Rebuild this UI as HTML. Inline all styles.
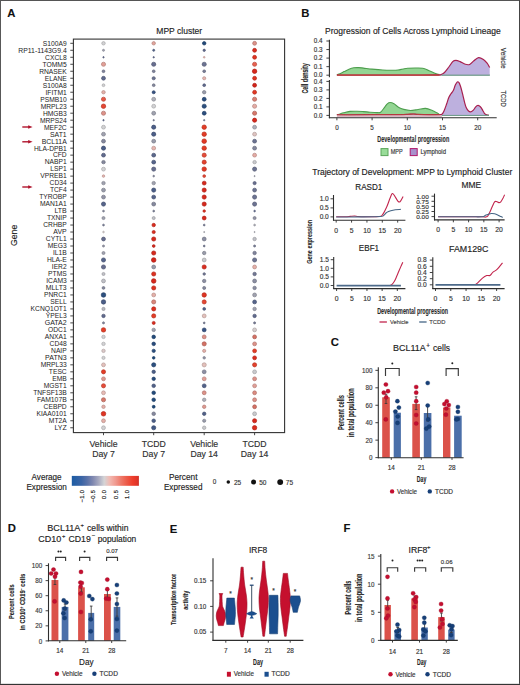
<!DOCTYPE html>
<html><head><meta charset="utf-8"><title>Figure</title>
<style>html,body{margin:0;padding:0;background:#fff;width:520px;height:685px;overflow:hidden;}
svg{display:block;font-family:"Liberation Sans", sans-serif;}</style></head>
<body>
<svg width="520" height="685" viewBox="0 0 520 685" font-family='"Liberation Sans", sans-serif'>
<rect width="520" height="685" fill="#fff"/>
<text x="7.20" y="16.90" font-size="11.30" text-anchor="start" fill="#111" stroke="#111" stroke-width="0.10" font-weight="bold">A</text>
<text x="179.20" y="33.70" font-size="9.00" text-anchor="middle" fill="#222" stroke="#222" stroke-width="0.15" font-weight="normal" textLength="45.80" lengthAdjust="spacingAndGlyphs">MPP cluster</text>
<circle cx="103.50" cy="43.30" r="1.72" fill="#d2d2d4" stroke="#a8a8a9" stroke-width="0.70"/>
<circle cx="103.50" cy="50.29" r="1.03" fill="#a0a2af" stroke="#80818c" stroke-width="0.70"/>
<circle cx="103.50" cy="57.28" r="0.69" fill="#616b8e" stroke="#4d5571" stroke-width="0.70"/>
<circle cx="103.50" cy="64.27" r="2.07" fill="#e19f97" stroke="#b47f78" stroke-width="0.70"/>
<circle cx="103.50" cy="71.26" r="1.38" fill="#80849c" stroke="#66697c" stroke-width="0.70"/>
<circle cx="103.50" cy="78.25" r="1.93" fill="#616b8e" stroke="#4d5571" stroke-width="0.70"/>
<circle cx="103.50" cy="85.24" r="1.38" fill="#d2d2d4" stroke="#a8a8a9" stroke-width="0.70"/>
<circle cx="103.50" cy="92.23" r="1.72" fill="#e4b0a9" stroke="#b68c87" stroke-width="0.70"/>
<circle cx="103.50" cy="99.22" r="2.07" fill="#e75a48" stroke="#b84839" stroke-width="0.70"/>
<circle cx="103.50" cy="106.21" r="2.21" fill="#e54733" stroke="#b73828" stroke-width="0.70"/>
<circle cx="103.50" cy="113.20" r="2.07" fill="#dd9289" stroke="#b0746d" stroke-width="0.70"/>
<circle cx="103.50" cy="120.19" r="0.69" fill="#616b8e" stroke="#4d5571" stroke-width="0.70"/>
<circle cx="103.50" cy="127.18" r="1.93" fill="#d2d2d4" stroke="#a8a8a9" stroke-width="0.70"/>
<circle cx="103.50" cy="134.17" r="1.93" fill="#a0a2af" stroke="#80818c" stroke-width="0.70"/>
<circle cx="103.50" cy="141.16" r="1.93" fill="#85899e" stroke="#6a6d7e" stroke-width="0.70"/>
<circle cx="103.50" cy="148.15" r="2.07" fill="#4b5e88" stroke="#3c4b6c" stroke-width="0.70"/>
<circle cx="103.50" cy="155.14" r="1.93" fill="#616b8e" stroke="#4d5571" stroke-width="0.70"/>
<circle cx="103.50" cy="162.13" r="1.72" fill="#85899e" stroke="#6a6d7e" stroke-width="0.70"/>
<circle cx="103.50" cy="169.12" r="1.93" fill="#d2d2d4" stroke="#a8a8a9" stroke-width="0.70"/>
<circle cx="103.50" cy="176.11" r="1.24" fill="#e6b6b0" stroke="#b8918c" stroke-width="0.70"/>
<circle cx="103.50" cy="183.10" r="1.72" fill="#a0a2af" stroke="#80818c" stroke-width="0.70"/>
<circle cx="103.50" cy="190.09" r="1.93" fill="#999cab" stroke="#7a7c88" stroke-width="0.70"/>
<circle cx="103.50" cy="197.08" r="1.93" fill="#9395a7" stroke="#757785" stroke-width="0.70"/>
<circle cx="103.50" cy="204.07" r="2.07" fill="#56648b" stroke="#44506f" stroke-width="0.70"/>
<circle cx="103.50" cy="211.06" r="0.90" fill="#85899e" stroke="#6a6d7e" stroke-width="0.70"/>
<circle cx="103.50" cy="218.05" r="1.52" fill="#a0a2af" stroke="#80818c" stroke-width="0.70"/>
<circle cx="103.50" cy="225.04" r="0.90" fill="#797e98" stroke="#606479" stroke-width="0.70"/>
<circle cx="103.50" cy="232.03" r="0.83" fill="#d6cece" stroke="#aba4a4" stroke-width="0.70"/>
<circle cx="103.50" cy="239.02" r="1.93" fill="#676e8f" stroke="#525872" stroke-width="0.70"/>
<circle cx="103.50" cy="246.01" r="1.03" fill="#9395a7" stroke="#757785" stroke-width="0.70"/>
<circle cx="103.50" cy="253.00" r="1.52" fill="#a0a2af" stroke="#80818c" stroke-width="0.70"/>
<circle cx="103.50" cy="259.99" r="2.07" fill="#56648b" stroke="#44506f" stroke-width="0.70"/>
<circle cx="103.50" cy="266.98" r="2.07" fill="#676e8f" stroke="#525872" stroke-width="0.70"/>
<circle cx="103.50" cy="273.97" r="1.52" fill="#c0c1c7" stroke="#999a9f" stroke-width="0.70"/>
<circle cx="103.50" cy="280.96" r="1.93" fill="#c0c1c7" stroke="#999a9f" stroke-width="0.70"/>
<circle cx="103.50" cy="287.95" r="1.38" fill="#85899e" stroke="#6a6d7e" stroke-width="0.70"/>
<circle cx="103.50" cy="294.94" r="2.28" fill="#2c4f7f" stroke="#233f65" stroke-width="0.70"/>
<circle cx="103.50" cy="301.93" r="2.21" fill="#4b5e88" stroke="#3c4b6c" stroke-width="0.70"/>
<circle cx="103.50" cy="308.92" r="1.59" fill="#b8b9c0" stroke="#939499" stroke-width="0.70"/>
<circle cx="103.50" cy="315.91" r="1.72" fill="#616b8e" stroke="#4d5571" stroke-width="0.70"/>
<circle cx="103.50" cy="322.90" r="1.03" fill="#85899e" stroke="#6a6d7e" stroke-width="0.70"/>
<circle cx="103.50" cy="329.89" r="2.21" fill="#e43c26" stroke="#b6301e" stroke-width="0.70"/>
<circle cx="103.50" cy="336.88" r="1.72" fill="#d2d2d4" stroke="#a8a8a9" stroke-width="0.70"/>
<circle cx="103.50" cy="343.87" r="1.72" fill="#d2d2d4" stroke="#a8a8a9" stroke-width="0.70"/>
<circle cx="103.50" cy="350.86" r="1.72" fill="#dbc9c8" stroke="#afa0a0" stroke-width="0.70"/>
<circle cx="103.50" cy="357.85" r="1.59" fill="#d2d2d4" stroke="#a8a8a9" stroke-width="0.70"/>
<circle cx="103.50" cy="364.84" r="1.93" fill="#e3c0bb" stroke="#b59995" stroke-width="0.70"/>
<circle cx="103.50" cy="371.83" r="2.07" fill="#e43c26" stroke="#b6301e" stroke-width="0.70"/>
<circle cx="103.50" cy="378.82" r="1.93" fill="#df9990" stroke="#b27a73" stroke-width="0.70"/>
<circle cx="103.50" cy="385.81" r="2.07" fill="#e64c39" stroke="#b83c2d" stroke-width="0.70"/>
<circle cx="103.50" cy="392.80" r="1.93" fill="#e7bbb5" stroke="#b89590" stroke-width="0.70"/>
<circle cx="103.50" cy="399.79" r="2.07" fill="#d6786b" stroke="#ab6055" stroke-width="0.70"/>
<circle cx="103.50" cy="406.78" r="1.72" fill="#e4b0a9" stroke="#b68c87" stroke-width="0.70"/>
<circle cx="103.50" cy="413.77" r="2.28" fill="#e03422" stroke="#b3291b" stroke-width="0.70"/>
<circle cx="103.50" cy="420.76" r="1.93" fill="#e4b0a9" stroke="#b68c87" stroke-width="0.70"/>
<circle cx="103.50" cy="427.75" r="1.93" fill="#d2d2d4" stroke="#a8a8a9" stroke-width="0.70"/>
<circle cx="153.70" cy="43.30" r="1.72" fill="#e2a59d" stroke="#b4847d" stroke-width="0.70"/>
<circle cx="153.70" cy="50.29" r="1.03" fill="#56648b" stroke="#44506f" stroke-width="0.70"/>
<circle cx="153.70" cy="57.28" r="0.69" fill="#616b8e" stroke="#4d5571" stroke-width="0.70"/>
<circle cx="153.70" cy="64.27" r="2.07" fill="#676e8f" stroke="#525872" stroke-width="0.70"/>
<circle cx="153.70" cy="71.26" r="1.38" fill="#80849c" stroke="#66697c" stroke-width="0.70"/>
<circle cx="153.70" cy="78.25" r="1.59" fill="#6c7392" stroke="#565c74" stroke-width="0.70"/>
<circle cx="153.70" cy="85.24" r="1.38" fill="#85899e" stroke="#6a6d7e" stroke-width="0.70"/>
<circle cx="153.70" cy="92.23" r="1.52" fill="#375383" stroke="#2c4268" stroke-width="0.70"/>
<circle cx="153.70" cy="99.22" r="1.93" fill="#afb0ba" stroke="#8c8c94" stroke-width="0.70"/>
<circle cx="153.70" cy="106.21" r="1.93" fill="#d2d2d4" stroke="#a8a8a9" stroke-width="0.70"/>
<circle cx="153.70" cy="113.20" r="1.93" fill="#a0a2af" stroke="#80818c" stroke-width="0.70"/>
<circle cx="153.70" cy="120.19" r="0.69" fill="#797e98" stroke="#606479" stroke-width="0.70"/>
<circle cx="153.70" cy="127.18" r="2.07" fill="#4b5e88" stroke="#3c4b6c" stroke-width="0.70"/>
<circle cx="153.70" cy="134.17" r="2.07" fill="#4b5e88" stroke="#3c4b6c" stroke-width="0.70"/>
<circle cx="153.70" cy="141.16" r="1.93" fill="#999cab" stroke="#7a7c88" stroke-width="0.70"/>
<circle cx="153.70" cy="148.15" r="1.93" fill="#e6b6b0" stroke="#b8918c" stroke-width="0.70"/>
<circle cx="153.70" cy="155.14" r="1.93" fill="#5c688c" stroke="#495370" stroke-width="0.70"/>
<circle cx="153.70" cy="162.13" r="1.93" fill="#56648b" stroke="#44506f" stroke-width="0.70"/>
<circle cx="153.70" cy="169.12" r="2.07" fill="#676e8f" stroke="#525872" stroke-width="0.70"/>
<circle cx="153.70" cy="176.11" r="0.83" fill="#85899e" stroke="#6a6d7e" stroke-width="0.70"/>
<circle cx="153.70" cy="183.10" r="1.72" fill="#a0a2af" stroke="#80818c" stroke-width="0.70"/>
<circle cx="153.70" cy="190.09" r="2.07" fill="#4b5e88" stroke="#3c4b6c" stroke-width="0.70"/>
<circle cx="153.70" cy="197.08" r="1.93" fill="#56648b" stroke="#44506f" stroke-width="0.70"/>
<circle cx="153.70" cy="204.07" r="1.93" fill="#85899e" stroke="#6a6d7e" stroke-width="0.70"/>
<circle cx="153.70" cy="211.06" r="0.90" fill="#797e98" stroke="#606479" stroke-width="0.70"/>
<circle cx="153.70" cy="218.05" r="1.52" fill="#c0c1c7" stroke="#999a9f" stroke-width="0.70"/>
<circle cx="153.70" cy="225.04" r="1.72" fill="#db2c1e" stroke="#af2318" stroke-width="0.70"/>
<circle cx="153.70" cy="232.03" r="1.59" fill="#db2c1e" stroke="#af2318" stroke-width="0.70"/>
<circle cx="153.70" cy="239.02" r="2.07" fill="#d7281c" stroke="#ac2016" stroke-width="0.70"/>
<circle cx="153.70" cy="246.01" r="1.38" fill="#d7281c" stroke="#ac2016" stroke-width="0.70"/>
<circle cx="153.70" cy="253.00" r="2.07" fill="#d7281c" stroke="#ac2016" stroke-width="0.70"/>
<circle cx="153.70" cy="259.99" r="2.28" fill="#d4241a" stroke="#a91c14" stroke-width="0.70"/>
<circle cx="153.70" cy="266.98" r="1.93" fill="#999cab" stroke="#7a7c88" stroke-width="0.70"/>
<circle cx="153.70" cy="273.97" r="2.07" fill="#de3020" stroke="#b12619" stroke-width="0.70"/>
<circle cx="153.70" cy="280.96" r="2.28" fill="#d7281c" stroke="#ac2016" stroke-width="0.70"/>
<circle cx="153.70" cy="287.95" r="2.07" fill="#de3020" stroke="#b12619" stroke-width="0.70"/>
<circle cx="153.70" cy="294.94" r="1.93" fill="#e4b0a9" stroke="#b68c87" stroke-width="0.70"/>
<circle cx="153.70" cy="301.93" r="2.07" fill="#da867a" stroke="#ae6b61" stroke-width="0.70"/>
<circle cx="153.70" cy="308.92" r="2.07" fill="#de3020" stroke="#b12619" stroke-width="0.70"/>
<circle cx="153.70" cy="315.91" r="2.07" fill="#e43c26" stroke="#b6301e" stroke-width="0.70"/>
<circle cx="153.70" cy="322.90" r="1.52" fill="#db2c1e" stroke="#af2318" stroke-width="0.70"/>
<circle cx="153.70" cy="329.89" r="1.72" fill="#a0a2af" stroke="#80818c" stroke-width="0.70"/>
<circle cx="153.70" cy="336.88" r="1.79" fill="#224a7b" stroke="#1b3b62" stroke-width="0.70"/>
<circle cx="153.70" cy="343.87" r="1.79" fill="#284c7d" stroke="#203c64" stroke-width="0.70"/>
<circle cx="153.70" cy="350.86" r="1.66" fill="#2c4f7f" stroke="#233f65" stroke-width="0.70"/>
<circle cx="153.70" cy="357.85" r="1.31" fill="#1e4878" stroke="#183960" stroke-width="0.70"/>
<circle cx="153.70" cy="364.84" r="2.07" fill="#2c4f7f" stroke="#233f65" stroke-width="0.70"/>
<circle cx="153.70" cy="371.83" r="1.72" fill="#4b5e88" stroke="#3c4b6c" stroke-width="0.70"/>
<circle cx="153.70" cy="378.82" r="1.72" fill="#284c7d" stroke="#203c64" stroke-width="0.70"/>
<circle cx="153.70" cy="385.81" r="1.79" fill="#516189" stroke="#404d6d" stroke-width="0.70"/>
<circle cx="153.70" cy="392.80" r="1.79" fill="#224a7b" stroke="#1b3b62" stroke-width="0.70"/>
<circle cx="153.70" cy="399.79" r="1.79" fill="#224a7b" stroke="#1b3b62" stroke-width="0.70"/>
<circle cx="153.70" cy="406.78" r="1.45" fill="#1e4878" stroke="#183960" stroke-width="0.70"/>
<circle cx="153.70" cy="413.77" r="1.79" fill="#85899e" stroke="#6a6d7e" stroke-width="0.70"/>
<circle cx="153.70" cy="420.76" r="1.79" fill="#4b5e88" stroke="#3c4b6c" stroke-width="0.70"/>
<circle cx="153.70" cy="427.75" r="2.07" fill="#415885" stroke="#34466a" stroke-width="0.70"/>
<circle cx="204.20" cy="43.30" r="1.72" fill="#224a7b" stroke="#1b3b62" stroke-width="0.70"/>
<circle cx="204.20" cy="50.29" r="1.17" fill="#616b8e" stroke="#4d5571" stroke-width="0.70"/>
<circle cx="204.20" cy="57.28" r="0.83" fill="#e6b6b0" stroke="#b8918c" stroke-width="0.70"/>
<circle cx="204.20" cy="64.27" r="2.07" fill="#6c7392" stroke="#565c74" stroke-width="0.70"/>
<circle cx="204.20" cy="71.26" r="1.38" fill="#797e98" stroke="#606479" stroke-width="0.70"/>
<circle cx="204.20" cy="78.25" r="1.59" fill="#e6b6b0" stroke="#b8918c" stroke-width="0.70"/>
<circle cx="204.20" cy="85.24" r="1.38" fill="#616b8e" stroke="#4d5571" stroke-width="0.70"/>
<circle cx="204.20" cy="92.23" r="1.72" fill="#999cab" stroke="#7a7c88" stroke-width="0.70"/>
<circle cx="204.20" cy="99.22" r="1.93" fill="#2c4f7f" stroke="#233f65" stroke-width="0.70"/>
<circle cx="204.20" cy="106.21" r="2.07" fill="#2c4f7f" stroke="#233f65" stroke-width="0.70"/>
<circle cx="204.20" cy="113.20" r="1.93" fill="#2c4f7f" stroke="#233f65" stroke-width="0.70"/>
<circle cx="204.20" cy="120.19" r="0.69" fill="#797e98" stroke="#606479" stroke-width="0.70"/>
<circle cx="204.20" cy="127.18" r="2.21" fill="#e43c26" stroke="#b6301e" stroke-width="0.70"/>
<circle cx="204.20" cy="134.17" r="2.21" fill="#e43c26" stroke="#b6301e" stroke-width="0.70"/>
<circle cx="204.20" cy="141.16" r="2.28" fill="#e23824" stroke="#b42c1c" stroke-width="0.70"/>
<circle cx="204.20" cy="148.15" r="2.21" fill="#e43c26" stroke="#b6301e" stroke-width="0.70"/>
<circle cx="204.20" cy="155.14" r="2.07" fill="#e64c39" stroke="#b83c2d" stroke-width="0.70"/>
<circle cx="204.20" cy="162.13" r="2.07" fill="#e4422d" stroke="#b63424" stroke-width="0.70"/>
<circle cx="204.20" cy="169.12" r="2.21" fill="#e23824" stroke="#b42c1c" stroke-width="0.70"/>
<circle cx="204.20" cy="176.11" r="1.38" fill="#e54733" stroke="#b73828" stroke-width="0.70"/>
<circle cx="204.20" cy="183.10" r="1.93" fill="#d7281c" stroke="#ac2016" stroke-width="0.70"/>
<circle cx="204.20" cy="190.09" r="2.07" fill="#d7281c" stroke="#ac2016" stroke-width="0.70"/>
<circle cx="204.20" cy="197.08" r="2.07" fill="#d7281c" stroke="#ac2016" stroke-width="0.70"/>
<circle cx="204.20" cy="204.07" r="2.07" fill="#d7281c" stroke="#ac2016" stroke-width="0.70"/>
<circle cx="204.20" cy="211.06" r="1.24" fill="#de3020" stroke="#b12619" stroke-width="0.70"/>
<circle cx="204.20" cy="218.05" r="1.93" fill="#d7281c" stroke="#ac2016" stroke-width="0.70"/>
<circle cx="204.20" cy="225.04" r="0.90" fill="#797e98" stroke="#606479" stroke-width="0.70"/>
<circle cx="204.20" cy="232.03" r="0.55" fill="#afb0ba" stroke="#8c8c94" stroke-width="0.70"/>
<circle cx="204.20" cy="239.02" r="1.93" fill="#8c8fa3" stroke="#707282" stroke-width="0.70"/>
<circle cx="204.20" cy="246.01" r="0.90" fill="#797e98" stroke="#606479" stroke-width="0.70"/>
<circle cx="204.20" cy="253.00" r="1.72" fill="#999cab" stroke="#7a7c88" stroke-width="0.70"/>
<circle cx="204.20" cy="259.99" r="1.93" fill="#c9cacd" stroke="#a0a1a4" stroke-width="0.70"/>
<circle cx="204.20" cy="266.98" r="2.07" fill="#db2c1e" stroke="#af2318" stroke-width="0.70"/>
<circle cx="204.20" cy="273.97" r="1.24" fill="#737995" stroke="#5c6077" stroke-width="0.70"/>
<circle cx="204.20" cy="280.96" r="1.72" fill="#8c8fa3" stroke="#707282" stroke-width="0.70"/>
<circle cx="204.20" cy="287.95" r="1.52" fill="#85899e" stroke="#6a6d7e" stroke-width="0.70"/>
<circle cx="204.20" cy="294.94" r="2.21" fill="#e03422" stroke="#b3291b" stroke-width="0.70"/>
<circle cx="204.20" cy="301.93" r="2.07" fill="#e54733" stroke="#b73828" stroke-width="0.70"/>
<circle cx="204.20" cy="308.92" r="1.38" fill="#56648b" stroke="#44506f" stroke-width="0.70"/>
<circle cx="204.20" cy="315.91" r="1.93" fill="#e3c0bb" stroke="#b59995" stroke-width="0.70"/>
<circle cx="204.20" cy="322.90" r="0.90" fill="#797e98" stroke="#606479" stroke-width="0.70"/>
<circle cx="204.20" cy="329.89" r="1.93" fill="#375383" stroke="#2c4268" stroke-width="0.70"/>
<circle cx="204.20" cy="336.88" r="1.93" fill="#dd9289" stroke="#b0746d" stroke-width="0.70"/>
<circle cx="204.20" cy="343.87" r="2.07" fill="#d47164" stroke="#a95a50" stroke-width="0.70"/>
<circle cx="204.20" cy="350.86" r="1.59" fill="#e4b0a9" stroke="#b68c87" stroke-width="0.70"/>
<circle cx="204.20" cy="357.85" r="1.24" fill="#9395a7" stroke="#757785" stroke-width="0.70"/>
<circle cx="204.20" cy="364.84" r="2.07" fill="#e3c0bb" stroke="#b59995" stroke-width="0.70"/>
<circle cx="204.20" cy="371.83" r="1.93" fill="#8c8fa3" stroke="#707282" stroke-width="0.70"/>
<circle cx="204.20" cy="378.82" r="1.93" fill="#e19f97" stroke="#b47f78" stroke-width="0.70"/>
<circle cx="204.20" cy="385.81" r="1.93" fill="#516189" stroke="#404d6d" stroke-width="0.70"/>
<circle cx="204.20" cy="392.80" r="1.93" fill="#dd9289" stroke="#b0746d" stroke-width="0.70"/>
<circle cx="204.20" cy="399.79" r="1.72" fill="#afb0ba" stroke="#8c8c94" stroke-width="0.70"/>
<circle cx="204.20" cy="406.78" r="1.72" fill="#df9990" stroke="#b27a73" stroke-width="0.70"/>
<circle cx="204.20" cy="413.77" r="1.72" fill="#516189" stroke="#404d6d" stroke-width="0.70"/>
<circle cx="204.20" cy="420.76" r="1.59" fill="#999cab" stroke="#7a7c88" stroke-width="0.70"/>
<circle cx="204.20" cy="427.75" r="1.72" fill="#c9cacd" stroke="#a0a1a4" stroke-width="0.70"/>
<circle cx="254.60" cy="43.30" r="1.93" fill="#dd9289" stroke="#b0746d" stroke-width="0.70"/>
<circle cx="254.60" cy="50.29" r="1.93" fill="#db2c1e" stroke="#af2318" stroke-width="0.70"/>
<circle cx="254.60" cy="57.28" r="1.93" fill="#e03422" stroke="#b3291b" stroke-width="0.70"/>
<circle cx="254.60" cy="64.27" r="2.07" fill="#e86150" stroke="#b94d40" stroke-width="0.70"/>
<circle cx="254.60" cy="71.26" r="2.21" fill="#d7281c" stroke="#ac2016" stroke-width="0.70"/>
<circle cx="254.60" cy="78.25" r="1.93" fill="#e03422" stroke="#b3291b" stroke-width="0.70"/>
<circle cx="254.60" cy="85.24" r="1.93" fill="#d4241a" stroke="#a91c14" stroke-width="0.70"/>
<circle cx="254.60" cy="92.23" r="1.93" fill="#e23824" stroke="#b42c1c" stroke-width="0.70"/>
<circle cx="254.60" cy="99.22" r="2.07" fill="#d87f73" stroke="#ac655c" stroke-width="0.70"/>
<circle cx="254.60" cy="106.21" r="2.07" fill="#e4aba4" stroke="#b68883" stroke-width="0.70"/>
<circle cx="254.60" cy="113.20" r="2.07" fill="#d6786b" stroke="#ab6055" stroke-width="0.70"/>
<circle cx="254.60" cy="120.19" r="2.07" fill="#d7281c" stroke="#ac2016" stroke-width="0.70"/>
<circle cx="254.60" cy="127.18" r="1.93" fill="#afb0ba" stroke="#8c8c94" stroke-width="0.70"/>
<circle cx="254.60" cy="134.17" r="1.93" fill="#dfc4c1" stroke="#b29c9a" stroke-width="0.70"/>
<circle cx="254.60" cy="141.16" r="1.93" fill="#6c7392" stroke="#565c74" stroke-width="0.70"/>
<circle cx="254.60" cy="148.15" r="1.93" fill="#85899e" stroke="#6a6d7e" stroke-width="0.70"/>
<circle cx="254.60" cy="155.14" r="1.93" fill="#e4aba4" stroke="#b68883" stroke-width="0.70"/>
<circle cx="254.60" cy="162.13" r="1.72" fill="#c9cacd" stroke="#a0a1a4" stroke-width="0.70"/>
<circle cx="254.60" cy="169.12" r="2.07" fill="#6c7392" stroke="#565c74" stroke-width="0.70"/>
<circle cx="254.60" cy="176.11" r="0.55" fill="#a0a2af" stroke="#80818c" stroke-width="0.70"/>
<circle cx="254.60" cy="183.10" r="1.59" fill="#676e8f" stroke="#525872" stroke-width="0.70"/>
<circle cx="254.60" cy="190.09" r="1.93" fill="#6c7392" stroke="#565c74" stroke-width="0.70"/>
<circle cx="254.60" cy="197.08" r="2.07" fill="#6c7392" stroke="#565c74" stroke-width="0.70"/>
<circle cx="254.60" cy="204.07" r="2.07" fill="#6c7392" stroke="#565c74" stroke-width="0.70"/>
<circle cx="254.60" cy="211.06" r="0.83" fill="#616b8e" stroke="#4d5571" stroke-width="0.70"/>
<circle cx="254.60" cy="218.05" r="1.52" fill="#9395a7" stroke="#757785" stroke-width="0.70"/>
<circle cx="254.60" cy="225.04" r="0.90" fill="#afb0ba" stroke="#8c8c94" stroke-width="0.70"/>
<circle cx="254.60" cy="232.03" r="0.55" fill="#afb0ba" stroke="#8c8c94" stroke-width="0.70"/>
<circle cx="254.60" cy="239.02" r="1.72" fill="#c0c1c7" stroke="#999a9f" stroke-width="0.70"/>
<circle cx="254.60" cy="246.01" r="1.03" fill="#797e98" stroke="#606479" stroke-width="0.70"/>
<circle cx="254.60" cy="253.00" r="1.72" fill="#80849c" stroke="#66697c" stroke-width="0.70"/>
<circle cx="254.60" cy="259.99" r="2.07" fill="#6c7392" stroke="#565c74" stroke-width="0.70"/>
<circle cx="254.60" cy="266.98" r="1.93" fill="#e4b0a9" stroke="#b68c87" stroke-width="0.70"/>
<circle cx="254.60" cy="273.97" r="1.72" fill="#737995" stroke="#5c6077" stroke-width="0.70"/>
<circle cx="254.60" cy="280.96" r="1.93" fill="#8c8fa3" stroke="#707282" stroke-width="0.70"/>
<circle cx="254.60" cy="287.95" r="1.72" fill="#8c8fa3" stroke="#707282" stroke-width="0.70"/>
<circle cx="254.60" cy="294.94" r="1.93" fill="#a0a2af" stroke="#80818c" stroke-width="0.70"/>
<circle cx="254.60" cy="301.93" r="1.93" fill="#56648b" stroke="#44506f" stroke-width="0.70"/>
<circle cx="254.60" cy="308.92" r="1.72" fill="#a0a2af" stroke="#80818c" stroke-width="0.70"/>
<circle cx="254.60" cy="315.91" r="1.72" fill="#616b8e" stroke="#4d5571" stroke-width="0.70"/>
<circle cx="254.60" cy="322.90" r="1.03" fill="#797e98" stroke="#606479" stroke-width="0.70"/>
<circle cx="254.60" cy="329.89" r="1.93" fill="#d6cece" stroke="#aba4a4" stroke-width="0.70"/>
<circle cx="254.60" cy="336.88" r="1.93" fill="#d47164" stroke="#a95a50" stroke-width="0.70"/>
<circle cx="254.60" cy="343.87" r="1.93" fill="#dd9289" stroke="#b0746d" stroke-width="0.70"/>
<circle cx="254.60" cy="350.86" r="1.93" fill="#e43c26" stroke="#b6301e" stroke-width="0.70"/>
<circle cx="254.60" cy="357.85" r="1.93" fill="#db2c1e" stroke="#af2318" stroke-width="0.70"/>
<circle cx="254.60" cy="364.84" r="2.07" fill="#e4422d" stroke="#b63424" stroke-width="0.70"/>
<circle cx="254.60" cy="371.83" r="1.93" fill="#c9cacd" stroke="#a0a1a4" stroke-width="0.70"/>
<circle cx="254.60" cy="378.82" r="1.93" fill="#dd9289" stroke="#b0746d" stroke-width="0.70"/>
<circle cx="254.60" cy="385.81" r="1.93" fill="#e19f97" stroke="#b47f78" stroke-width="0.70"/>
<circle cx="254.60" cy="392.80" r="1.93" fill="#dc8c81" stroke="#b07067" stroke-width="0.70"/>
<circle cx="254.60" cy="399.79" r="1.93" fill="#dd9289" stroke="#b0746d" stroke-width="0.70"/>
<circle cx="254.60" cy="406.78" r="1.93" fill="#d47164" stroke="#a95a50" stroke-width="0.70"/>
<circle cx="254.60" cy="413.77" r="1.93" fill="#c9cacd" stroke="#a0a1a4" stroke-width="0.70"/>
<circle cx="254.60" cy="420.76" r="2.07" fill="#d7281c" stroke="#ac2016" stroke-width="0.70"/>
<circle cx="254.60" cy="427.75" r="2.21" fill="#db2c1e" stroke="#af2318" stroke-width="0.70"/>
<rect x="73.4" y="39.1" width="211.2" height="393.5" fill="none" stroke="#333" stroke-width="1.1"/>
<line x1="70.30" y1="43.30" x2="73.40" y2="43.30" stroke="#333" stroke-width="0.90"/>
<text x="66.70" y="45.65" font-size="6.80" text-anchor="end" fill="#1c1c1c" stroke="#1c1c1c" stroke-width="0.00" font-weight="normal" textLength="23.84" lengthAdjust="spacingAndGlyphs">S100A9</text>
<line x1="70.30" y1="50.29" x2="73.40" y2="50.29" stroke="#333" stroke-width="0.90"/>
<text x="66.70" y="52.64" font-size="6.80" text-anchor="end" fill="#1c1c1c" stroke="#1c1c1c" stroke-width="0.00" font-weight="normal" textLength="48.41" lengthAdjust="spacingAndGlyphs">RP11-1143G9.4</text>
<line x1="70.30" y1="57.28" x2="73.40" y2="57.28" stroke="#333" stroke-width="0.90"/>
<text x="66.70" y="59.63" font-size="6.80" text-anchor="end" fill="#1c1c1c" stroke="#1c1c1c" stroke-width="0.00" font-weight="normal" textLength="21.59" lengthAdjust="spacingAndGlyphs">CXCL8</text>
<line x1="70.30" y1="64.27" x2="73.40" y2="64.27" stroke="#333" stroke-width="0.90"/>
<text x="66.70" y="66.62" font-size="6.80" text-anchor="end" fill="#1c1c1c" stroke="#1c1c1c" stroke-width="0.00" font-weight="normal" textLength="24.19" lengthAdjust="spacingAndGlyphs">TOMM5</text>
<line x1="70.30" y1="71.26" x2="73.40" y2="71.26" stroke="#333" stroke-width="0.90"/>
<text x="66.70" y="73.61" font-size="6.80" text-anchor="end" fill="#1c1c1c" stroke="#1c1c1c" stroke-width="0.00" font-weight="normal" textLength="27.54" lengthAdjust="spacingAndGlyphs">RNASEK</text>
<line x1="70.30" y1="78.25" x2="73.40" y2="78.25" stroke="#333" stroke-width="0.90"/>
<text x="66.70" y="80.60" font-size="6.80" text-anchor="end" fill="#1c1c1c" stroke="#1c1c1c" stroke-width="0.00" font-weight="normal" textLength="21.96" lengthAdjust="spacingAndGlyphs">ELANE</text>
<line x1="70.30" y1="85.24" x2="73.40" y2="85.24" stroke="#333" stroke-width="0.90"/>
<text x="66.70" y="87.59" font-size="6.80" text-anchor="end" fill="#1c1c1c" stroke="#1c1c1c" stroke-width="0.00" font-weight="normal" textLength="23.84" lengthAdjust="spacingAndGlyphs">S100A8</text>
<line x1="70.30" y1="92.23" x2="73.40" y2="92.23" stroke="#333" stroke-width="0.90"/>
<text x="66.70" y="94.58" font-size="6.80" text-anchor="end" fill="#1c1c1c" stroke="#1c1c1c" stroke-width="0.00" font-weight="normal" textLength="21.21" lengthAdjust="spacingAndGlyphs">IFITM1</text>
<line x1="70.30" y1="99.22" x2="73.40" y2="99.22" stroke="#333" stroke-width="0.90"/>
<text x="66.70" y="101.57" font-size="6.80" text-anchor="end" fill="#1c1c1c" stroke="#1c1c1c" stroke-width="0.00" font-weight="normal" textLength="26.43" lengthAdjust="spacingAndGlyphs">PSMB10</text>
<line x1="70.30" y1="106.21" x2="73.40" y2="106.21" stroke="#333" stroke-width="0.90"/>
<text x="66.70" y="108.56" font-size="6.80" text-anchor="end" fill="#1c1c1c" stroke="#1c1c1c" stroke-width="0.00" font-weight="normal" textLength="26.06" lengthAdjust="spacingAndGlyphs">MRPL23</text>
<line x1="70.30" y1="113.20" x2="73.40" y2="113.20" stroke="#333" stroke-width="0.90"/>
<text x="66.70" y="115.55" font-size="6.80" text-anchor="end" fill="#1c1c1c" stroke="#1c1c1c" stroke-width="0.00" font-weight="normal" textLength="23.82" lengthAdjust="spacingAndGlyphs">HMGB3</text>
<line x1="70.30" y1="120.19" x2="73.40" y2="120.19" stroke="#333" stroke-width="0.90"/>
<text x="66.70" y="122.54" font-size="6.80" text-anchor="end" fill="#1c1c1c" stroke="#1c1c1c" stroke-width="0.00" font-weight="normal" textLength="26.80" lengthAdjust="spacingAndGlyphs">MRPS24</text>
<line x1="70.30" y1="127.18" x2="73.40" y2="127.18" stroke="#333" stroke-width="0.90"/>
<text x="66.70" y="129.53" font-size="6.80" text-anchor="end" fill="#1c1c1c" stroke="#1c1c1c" stroke-width="0.00" font-weight="normal" textLength="22.70" lengthAdjust="spacingAndGlyphs">MEF2C</text>
<line x1="70.30" y1="134.17" x2="73.40" y2="134.17" stroke="#333" stroke-width="0.90"/>
<text x="66.70" y="136.52" font-size="6.80" text-anchor="end" fill="#1c1c1c" stroke="#1c1c1c" stroke-width="0.00" font-weight="normal" textLength="16.75" lengthAdjust="spacingAndGlyphs">SAT1</text>
<line x1="70.30" y1="141.16" x2="73.40" y2="141.16" stroke="#333" stroke-width="0.90"/>
<text x="66.70" y="143.51" font-size="6.80" text-anchor="end" fill="#1c1c1c" stroke="#1c1c1c" stroke-width="0.00" font-weight="normal" textLength="24.95" lengthAdjust="spacingAndGlyphs">BCL11A</text>
<line x1="70.30" y1="148.15" x2="73.40" y2="148.15" stroke="#333" stroke-width="0.90"/>
<text x="66.70" y="150.50" font-size="6.80" text-anchor="end" fill="#1c1c1c" stroke="#1c1c1c" stroke-width="0.00" font-weight="normal" textLength="32.76" lengthAdjust="spacingAndGlyphs">HLA-DPB1</text>
<line x1="70.30" y1="155.14" x2="73.40" y2="155.14" stroke="#333" stroke-width="0.90"/>
<text x="66.70" y="157.49" font-size="6.80" text-anchor="end" fill="#1c1c1c" stroke="#1c1c1c" stroke-width="0.00" font-weight="normal" textLength="13.77" lengthAdjust="spacingAndGlyphs">CFD</text>
<line x1="70.30" y1="162.13" x2="73.40" y2="162.13" stroke="#333" stroke-width="0.90"/>
<text x="66.70" y="164.48" font-size="6.80" text-anchor="end" fill="#1c1c1c" stroke="#1c1c1c" stroke-width="0.00" font-weight="normal" textLength="21.96" lengthAdjust="spacingAndGlyphs">NABP1</text>
<line x1="70.30" y1="169.12" x2="73.40" y2="169.12" stroke="#333" stroke-width="0.90"/>
<text x="66.70" y="171.47" font-size="6.80" text-anchor="end" fill="#1c1c1c" stroke="#1c1c1c" stroke-width="0.00" font-weight="normal" textLength="16.39" lengthAdjust="spacingAndGlyphs">LSP1</text>
<line x1="70.30" y1="176.11" x2="73.40" y2="176.11" stroke="#333" stroke-width="0.90"/>
<text x="66.70" y="178.46" font-size="6.80" text-anchor="end" fill="#1c1c1c" stroke="#1c1c1c" stroke-width="0.00" font-weight="normal" textLength="26.43" lengthAdjust="spacingAndGlyphs">VPREB1</text>
<line x1="70.30" y1="183.10" x2="73.40" y2="183.10" stroke="#333" stroke-width="0.90"/>
<text x="66.70" y="185.45" font-size="6.80" text-anchor="end" fill="#1c1c1c" stroke="#1c1c1c" stroke-width="0.00" font-weight="normal" textLength="17.12" lengthAdjust="spacingAndGlyphs">CD34</text>
<line x1="70.30" y1="190.09" x2="73.40" y2="190.09" stroke="#333" stroke-width="0.90"/>
<text x="66.70" y="192.44" font-size="6.80" text-anchor="end" fill="#1c1c1c" stroke="#1c1c1c" stroke-width="0.00" font-weight="normal" textLength="16.75" lengthAdjust="spacingAndGlyphs">TCF4</text>
<line x1="70.30" y1="197.08" x2="73.40" y2="197.08" stroke="#333" stroke-width="0.90"/>
<text x="66.70" y="199.43" font-size="6.80" text-anchor="end" fill="#1c1c1c" stroke="#1c1c1c" stroke-width="0.00" font-weight="normal" textLength="27.54" lengthAdjust="spacingAndGlyphs">TYROBP</text>
<line x1="70.30" y1="204.07" x2="73.40" y2="204.07" stroke="#333" stroke-width="0.90"/>
<text x="66.70" y="206.42" font-size="6.80" text-anchor="end" fill="#1c1c1c" stroke="#1c1c1c" stroke-width="0.00" font-weight="normal" textLength="26.80" lengthAdjust="spacingAndGlyphs">MAN1A1</text>
<line x1="70.30" y1="211.06" x2="73.40" y2="211.06" stroke="#333" stroke-width="0.90"/>
<text x="66.70" y="213.41" font-size="6.80" text-anchor="end" fill="#1c1c1c" stroke="#1c1c1c" stroke-width="0.00" font-weight="normal" textLength="12.28" lengthAdjust="spacingAndGlyphs">LTB</text>
<line x1="70.30" y1="218.05" x2="73.40" y2="218.05" stroke="#333" stroke-width="0.90"/>
<text x="66.70" y="220.40" font-size="6.80" text-anchor="end" fill="#1c1c1c" stroke="#1c1c1c" stroke-width="0.00" font-weight="normal" textLength="19.72" lengthAdjust="spacingAndGlyphs">TXNIP</text>
<line x1="70.30" y1="225.04" x2="73.40" y2="225.04" stroke="#333" stroke-width="0.90"/>
<text x="66.70" y="227.39" font-size="6.80" text-anchor="end" fill="#1c1c1c" stroke="#1c1c1c" stroke-width="0.00" font-weight="normal" textLength="23.45" lengthAdjust="spacingAndGlyphs">CRHBP</text>
<line x1="70.30" y1="232.03" x2="73.40" y2="232.03" stroke="#333" stroke-width="0.90"/>
<text x="66.70" y="234.38" font-size="6.80" text-anchor="end" fill="#1c1c1c" stroke="#1c1c1c" stroke-width="0.00" font-weight="normal" textLength="13.40" lengthAdjust="spacingAndGlyphs">AVP</text>
<line x1="70.30" y1="239.02" x2="73.40" y2="239.02" stroke="#333" stroke-width="0.90"/>
<text x="66.70" y="241.37" font-size="6.80" text-anchor="end" fill="#1c1c1c" stroke="#1c1c1c" stroke-width="0.00" font-weight="normal" textLength="20.85" lengthAdjust="spacingAndGlyphs">CYTL1</text>
<line x1="70.30" y1="246.01" x2="73.40" y2="246.01" stroke="#333" stroke-width="0.90"/>
<text x="66.70" y="248.36" font-size="6.80" text-anchor="end" fill="#1c1c1c" stroke="#1c1c1c" stroke-width="0.00" font-weight="normal" textLength="18.98" lengthAdjust="spacingAndGlyphs">MEG3</text>
<line x1="70.30" y1="253.00" x2="73.40" y2="253.00" stroke="#333" stroke-width="0.90"/>
<text x="66.70" y="255.35" font-size="6.80" text-anchor="end" fill="#1c1c1c" stroke="#1c1c1c" stroke-width="0.00" font-weight="normal" textLength="13.78" lengthAdjust="spacingAndGlyphs">IL1B</text>
<line x1="70.30" y1="259.99" x2="73.40" y2="259.99" stroke="#333" stroke-width="0.90"/>
<text x="66.70" y="262.34" font-size="6.80" text-anchor="end" fill="#1c1c1c" stroke="#1c1c1c" stroke-width="0.00" font-weight="normal" textLength="19.73" lengthAdjust="spacingAndGlyphs">HLA-E</text>
<line x1="70.30" y1="266.98" x2="73.40" y2="266.98" stroke="#333" stroke-width="0.90"/>
<text x="66.70" y="269.33" font-size="6.80" text-anchor="end" fill="#1c1c1c" stroke="#1c1c1c" stroke-width="0.00" font-weight="normal" textLength="14.89" lengthAdjust="spacingAndGlyphs">IER2</text>
<line x1="70.30" y1="273.97" x2="73.40" y2="273.97" stroke="#333" stroke-width="0.90"/>
<text x="66.70" y="276.32" font-size="6.80" text-anchor="end" fill="#1c1c1c" stroke="#1c1c1c" stroke-width="0.00" font-weight="normal" textLength="18.61" lengthAdjust="spacingAndGlyphs">PTMS</text>
<line x1="70.30" y1="280.96" x2="73.40" y2="280.96" stroke="#333" stroke-width="0.90"/>
<text x="66.70" y="283.31" font-size="6.80" text-anchor="end" fill="#1c1c1c" stroke="#1c1c1c" stroke-width="0.00" font-weight="normal" textLength="20.47" lengthAdjust="spacingAndGlyphs">ICAM3</text>
<line x1="70.30" y1="287.95" x2="73.40" y2="287.95" stroke="#333" stroke-width="0.90"/>
<text x="66.70" y="290.30" font-size="6.80" text-anchor="end" fill="#1c1c1c" stroke="#1c1c1c" stroke-width="0.00" font-weight="normal" textLength="20.85" lengthAdjust="spacingAndGlyphs">MLLT3</text>
<line x1="70.30" y1="294.94" x2="73.40" y2="294.94" stroke="#333" stroke-width="0.90"/>
<text x="66.70" y="297.29" font-size="6.80" text-anchor="end" fill="#1c1c1c" stroke="#1c1c1c" stroke-width="0.00" font-weight="normal" textLength="22.70" lengthAdjust="spacingAndGlyphs">PNRC1</text>
<line x1="70.30" y1="301.93" x2="73.40" y2="301.93" stroke="#333" stroke-width="0.90"/>
<text x="66.70" y="304.28" font-size="6.80" text-anchor="end" fill="#1c1c1c" stroke="#1c1c1c" stroke-width="0.00" font-weight="normal" textLength="16.39" lengthAdjust="spacingAndGlyphs">SELL</text>
<line x1="70.30" y1="308.92" x2="73.40" y2="308.92" stroke="#333" stroke-width="0.90"/>
<text x="66.70" y="311.27" font-size="6.80" text-anchor="end" fill="#1c1c1c" stroke="#1c1c1c" stroke-width="0.00" font-weight="normal" textLength="36.10" lengthAdjust="spacingAndGlyphs">KCNQ1OT1</text>
<line x1="70.30" y1="315.91" x2="73.40" y2="315.91" stroke="#333" stroke-width="0.90"/>
<text x="66.70" y="318.26" font-size="6.80" text-anchor="end" fill="#1c1c1c" stroke="#1c1c1c" stroke-width="0.00" font-weight="normal" textLength="20.85" lengthAdjust="spacingAndGlyphs">YPEL3</text>
<line x1="70.30" y1="322.90" x2="73.40" y2="322.90" stroke="#333" stroke-width="0.90"/>
<text x="66.70" y="325.25" font-size="6.80" text-anchor="end" fill="#1c1c1c" stroke="#1c1c1c" stroke-width="0.00" font-weight="normal" textLength="21.96" lengthAdjust="spacingAndGlyphs">GATA2</text>
<line x1="70.30" y1="329.89" x2="73.40" y2="329.89" stroke="#333" stroke-width="0.90"/>
<text x="66.70" y="332.24" font-size="6.80" text-anchor="end" fill="#1c1c1c" stroke="#1c1c1c" stroke-width="0.00" font-weight="normal" textLength="18.61" lengthAdjust="spacingAndGlyphs">ODC1</text>
<line x1="70.30" y1="336.88" x2="73.40" y2="336.88" stroke="#333" stroke-width="0.90"/>
<text x="66.70" y="339.23" font-size="6.80" text-anchor="end" fill="#1c1c1c" stroke="#1c1c1c" stroke-width="0.00" font-weight="normal" textLength="21.96" lengthAdjust="spacingAndGlyphs">ANXA1</text>
<line x1="70.30" y1="343.87" x2="73.40" y2="343.87" stroke="#333" stroke-width="0.90"/>
<text x="66.70" y="346.22" font-size="6.80" text-anchor="end" fill="#1c1c1c" stroke="#1c1c1c" stroke-width="0.00" font-weight="normal" textLength="17.12" lengthAdjust="spacingAndGlyphs">CD48</text>
<line x1="70.30" y1="350.86" x2="73.40" y2="350.86" stroke="#333" stroke-width="0.90"/>
<text x="66.70" y="353.21" font-size="6.80" text-anchor="end" fill="#1c1c1c" stroke="#1c1c1c" stroke-width="0.00" font-weight="normal" textLength="15.63" lengthAdjust="spacingAndGlyphs">NAIP</text>
<line x1="70.30" y1="357.85" x2="73.40" y2="357.85" stroke="#333" stroke-width="0.90"/>
<text x="66.70" y="360.20" font-size="6.80" text-anchor="end" fill="#1c1c1c" stroke="#1c1c1c" stroke-width="0.00" font-weight="normal" textLength="21.59" lengthAdjust="spacingAndGlyphs">PATN3</text>
<line x1="70.30" y1="364.84" x2="73.40" y2="364.84" stroke="#333" stroke-width="0.90"/>
<text x="66.70" y="367.19" font-size="6.80" text-anchor="end" fill="#1c1c1c" stroke="#1c1c1c" stroke-width="0.00" font-weight="normal" textLength="26.06" lengthAdjust="spacingAndGlyphs">MRPL33</text>
<line x1="70.30" y1="371.83" x2="73.40" y2="371.83" stroke="#333" stroke-width="0.90"/>
<text x="66.70" y="374.18" font-size="6.80" text-anchor="end" fill="#1c1c1c" stroke="#1c1c1c" stroke-width="0.00" font-weight="normal" textLength="17.86" lengthAdjust="spacingAndGlyphs">TESC</text>
<line x1="70.30" y1="378.82" x2="73.40" y2="378.82" stroke="#333" stroke-width="0.90"/>
<text x="66.70" y="381.17" font-size="6.80" text-anchor="end" fill="#1c1c1c" stroke="#1c1c1c" stroke-width="0.00" font-weight="normal" textLength="14.51" lengthAdjust="spacingAndGlyphs">EMB</text>
<line x1="70.30" y1="385.81" x2="73.40" y2="385.81" stroke="#333" stroke-width="0.90"/>
<text x="66.70" y="388.16" font-size="6.80" text-anchor="end" fill="#1c1c1c" stroke="#1c1c1c" stroke-width="0.00" font-weight="normal" textLength="23.07" lengthAdjust="spacingAndGlyphs">MGST1</text>
<line x1="70.30" y1="392.80" x2="73.40" y2="392.80" stroke="#333" stroke-width="0.90"/>
<text x="66.70" y="395.15" font-size="6.80" text-anchor="end" fill="#1c1c1c" stroke="#1c1c1c" stroke-width="0.00" font-weight="normal" textLength="33.50" lengthAdjust="spacingAndGlyphs">TNFSF13B</text>
<line x1="70.30" y1="399.79" x2="73.40" y2="399.79" stroke="#333" stroke-width="0.90"/>
<text x="66.70" y="402.14" font-size="6.80" text-anchor="end" fill="#1c1c1c" stroke="#1c1c1c" stroke-width="0.00" font-weight="normal" textLength="29.78" lengthAdjust="spacingAndGlyphs">FAM107B</text>
<line x1="70.30" y1="406.78" x2="73.40" y2="406.78" stroke="#333" stroke-width="0.90"/>
<text x="66.70" y="409.13" font-size="6.80" text-anchor="end" fill="#1c1c1c" stroke="#1c1c1c" stroke-width="0.00" font-weight="normal" textLength="23.08" lengthAdjust="spacingAndGlyphs">CEBPD</text>
<line x1="70.30" y1="413.77" x2="73.40" y2="413.77" stroke="#333" stroke-width="0.90"/>
<text x="66.70" y="416.12" font-size="6.80" text-anchor="end" fill="#1c1c1c" stroke="#1c1c1c" stroke-width="0.00" font-weight="normal" textLength="30.16" lengthAdjust="spacingAndGlyphs">KIAA0101</text>
<line x1="70.30" y1="420.76" x2="73.40" y2="420.76" stroke="#333" stroke-width="0.90"/>
<text x="66.70" y="423.11" font-size="6.80" text-anchor="end" fill="#1c1c1c" stroke="#1c1c1c" stroke-width="0.00" font-weight="normal" textLength="17.86" lengthAdjust="spacingAndGlyphs">MT2A</text>
<line x1="70.30" y1="427.75" x2="73.40" y2="427.75" stroke="#333" stroke-width="0.90"/>
<text x="66.70" y="430.10" font-size="6.80" text-anchor="end" fill="#1c1c1c" stroke="#1c1c1c" stroke-width="0.00" font-weight="normal" textLength="12.28" lengthAdjust="spacingAndGlyphs">LYZ</text>
<line x1="103.50" y1="432.60" x2="103.50" y2="435.20" stroke="#333" stroke-width="0.90"/>
<text x="103.50" y="446.60" font-size="8.70" text-anchor="middle" fill="#2f2f2f" stroke="#2f2f2f" stroke-width="0.15" font-weight="normal">Vehicle</text>
<text x="103.50" y="457.00" font-size="8.70" text-anchor="middle" fill="#2f2f2f" stroke="#2f2f2f" stroke-width="0.15" font-weight="normal">Day 7</text>
<line x1="153.70" y1="432.60" x2="153.70" y2="435.20" stroke="#333" stroke-width="0.90"/>
<text x="153.70" y="446.60" font-size="8.70" text-anchor="middle" fill="#2f2f2f" stroke="#2f2f2f" stroke-width="0.15" font-weight="normal">TCDD</text>
<text x="153.70" y="457.00" font-size="8.70" text-anchor="middle" fill="#2f2f2f" stroke="#2f2f2f" stroke-width="0.15" font-weight="normal">Day 7</text>
<line x1="204.20" y1="432.60" x2="204.20" y2="435.20" stroke="#333" stroke-width="0.90"/>
<text x="204.20" y="446.60" font-size="8.70" text-anchor="middle" fill="#2f2f2f" stroke="#2f2f2f" stroke-width="0.15" font-weight="normal">Vehicle</text>
<text x="204.20" y="457.00" font-size="8.70" text-anchor="middle" fill="#2f2f2f" stroke="#2f2f2f" stroke-width="0.15" font-weight="normal">Day 14</text>
<line x1="254.60" y1="432.60" x2="254.60" y2="435.20" stroke="#333" stroke-width="0.90"/>
<text x="254.60" y="446.60" font-size="8.70" text-anchor="middle" fill="#2f2f2f" stroke="#2f2f2f" stroke-width="0.15" font-weight="normal">TCDD</text>
<text x="254.60" y="457.00" font-size="8.70" text-anchor="middle" fill="#2f2f2f" stroke="#2f2f2f" stroke-width="0.15" font-weight="normal">Day 14</text>
<text transform="translate(13.90 235.40) rotate(-90)" x="0" y="2.99" font-size="8.70" text-anchor="middle" fill="#222" stroke="#222" stroke-width="0.15" font-weight="normal">Gene</text>
<line x1="22.30" y1="127.00" x2="29.00" y2="127.00" stroke="#b0142c" stroke-width="1.40"/>
<path d="M28.2,125.30 L32.6,127.00 L28.2,128.70 Z" fill="#b0142c"/>
<line x1="22.30" y1="141.80" x2="29.00" y2="141.80" stroke="#b0142c" stroke-width="1.40"/>
<path d="M28.2,140.10 L32.6,141.80 L28.2,143.50 Z" fill="#b0142c"/>
<line x1="22.30" y1="187.00" x2="29.00" y2="187.00" stroke="#b0142c" stroke-width="1.40"/>
<path d="M28.2,185.30 L32.6,187.00 L28.2,188.70 Z" fill="#b0142c"/>
<text x="46.60" y="480.40" font-size="8.70" text-anchor="middle" fill="#222" stroke="#222" stroke-width="0.15" font-weight="normal" textLength="30.00" lengthAdjust="spacingAndGlyphs">Average</text>
<text x="46.60" y="490.40" font-size="8.70" text-anchor="middle" fill="#222" stroke="#222" stroke-width="0.15" font-weight="normal" textLength="40.40" lengthAdjust="spacingAndGlyphs">Expression</text>
<defs><linearGradient id="cb" x1="0" x2="1" y1="0" y2="0"><stop offset="0.000" stop-color="#1c5ca4"/><stop offset="0.145" stop-color="#3a64a5"/><stop offset="0.230" stop-color="#5a72a8"/><stop offset="0.314" stop-color="#8088b0"/><stop offset="0.399" stop-color="#a8aac0"/><stop offset="0.483" stop-color="#d4d4d6"/><stop offset="0.568" stop-color="#f2b8b0"/><stop offset="0.652" stop-color="#f09a90"/><stop offset="0.736" stop-color="#ee7868"/><stop offset="0.821" stop-color="#ec5a48"/><stop offset="0.905" stop-color="#ee3e2c"/><stop offset="0.973" stop-color="#e03428"/><stop offset="1.000" stop-color="#cc3028"/></linearGradient></defs>
<rect x="71.80" y="475.90" width="67.10" height="9.90" fill="url(#cb)" stroke="none" stroke-width="0.00"/>
<text transform="translate(81.60 490.0) rotate(-90)" x="0" y="1.95" font-size="5.7" text-anchor="end" fill="#2a2a2a" stroke="#2a2a2a" stroke-width="0.2" textLength="12.6" lengthAdjust="spacing">&#8722;1.0</text>
<text transform="translate(93.00 490.0) rotate(-90)" x="0" y="1.95" font-size="5.7" text-anchor="end" fill="#2a2a2a" stroke="#2a2a2a" stroke-width="0.2" textLength="12.6" lengthAdjust="spacing">&#8722;0.5</text>
<text transform="translate(104.30 490.0) rotate(-90)" x="0" y="1.95" font-size="5.7" text-anchor="end" fill="#2a2a2a" stroke="#2a2a2a" stroke-width="0.2" textLength="9.0" lengthAdjust="spacing">0.0</text>
<text transform="translate(115.80 490.0) rotate(-90)" x="0" y="1.95" font-size="5.7" text-anchor="end" fill="#2a2a2a" stroke="#2a2a2a" stroke-width="0.2" textLength="9.0" lengthAdjust="spacing">0.5</text>
<text transform="translate(127.00 490.0) rotate(-90)" x="0" y="1.95" font-size="5.7" text-anchor="end" fill="#2a2a2a" stroke="#2a2a2a" stroke-width="0.2" textLength="9.0" lengthAdjust="spacing">1.0</text>
<text x="183.20" y="479.60" font-size="8.70" text-anchor="middle" fill="#222" stroke="#222" stroke-width="0.15" font-weight="normal" textLength="28.50" lengthAdjust="spacingAndGlyphs">Percent</text>
<text x="183.20" y="489.90" font-size="8.70" text-anchor="middle" fill="#222" stroke="#222" stroke-width="0.15" font-weight="normal" textLength="38.50" lengthAdjust="spacingAndGlyphs">Expressed</text>
<text x="214.60" y="484.20" font-size="6.40" text-anchor="middle" fill="#333" stroke="#333" stroke-width="0.15" font-weight="normal">0</text>
<circle cx="228.30" cy="482.10" r="1.75" fill="#111" stroke="none" stroke-width="0.00"/>
<text x="233.90" y="484.50" font-size="6.50" text-anchor="start" fill="#333" stroke="#333" stroke-width="0.15" font-weight="normal">25</text>
<circle cx="253.60" cy="482.10" r="2.50" fill="#111" stroke="none" stroke-width="0.00"/>
<text x="259.20" y="484.50" font-size="6.50" text-anchor="start" fill="#333" stroke="#333" stroke-width="0.15" font-weight="normal">50</text>
<circle cx="280.20" cy="482.10" r="2.95" fill="#111" stroke="none" stroke-width="0.00"/>
<text x="285.80" y="484.50" font-size="6.50" text-anchor="start" fill="#333" stroke="#333" stroke-width="0.15" font-weight="normal">75</text>
<text x="301.30" y="17.30" font-size="11.30" text-anchor="start" fill="#111" stroke="#111" stroke-width="0.10" font-weight="bold">B</text>
<text x="325.10" y="33.50" font-size="9.00" text-anchor="start" fill="#222" stroke="#222" stroke-width="0.15" font-weight="normal" textLength="175.70" lengthAdjust="spacingAndGlyphs">Progression of Cells Across Lymphoid Lineage</text>
<path d="M336.90,74.60 C337.42,74.47 338.78,74.30 340.00,73.80 C341.22,73.30 342.70,72.37 344.20,71.60 C345.70,70.83 347.40,69.83 349.00,69.20 C350.60,68.57 352.22,68.07 353.80,67.80 C355.38,67.53 356.88,67.55 358.50,67.60 C360.12,67.65 361.25,67.85 363.50,68.10 C365.75,68.35 368.80,68.78 372.00,69.10 C375.20,69.42 379.37,69.82 382.70,70.00 C386.03,70.18 389.45,70.20 392.00,70.20 C394.55,70.20 396.17,70.20 398.00,70.00 C399.83,69.80 401.38,69.30 403.00,69.00 C404.62,68.70 405.70,68.37 407.70,68.20 C409.70,68.03 412.50,68.00 415.00,68.00 C417.50,68.00 420.45,67.80 422.70,68.20 C424.95,68.60 426.58,69.58 428.50,70.40 C430.42,71.22 432.62,72.43 434.20,73.10 C435.78,73.77 436.72,74.10 438.00,74.40 C439.28,74.70 439.90,74.80 441.90,74.90 C443.90,75.00 445.32,74.98 450.00,75.00 C454.68,75.02 463.38,75.00 470.00,75.00 C476.62,75.00 486.42,75.00 489.70,75.00 L489.70,75.40 L336.90,75.40 Z" fill="#93d593" stroke="none"/>
<path d="M336.90,74.60 C337.42,74.47 338.78,74.30 340.00,73.80 C341.22,73.30 342.70,72.37 344.20,71.60 C345.70,70.83 347.40,69.83 349.00,69.20 C350.60,68.57 352.22,68.07 353.80,67.80 C355.38,67.53 356.88,67.55 358.50,67.60 C360.12,67.65 361.25,67.85 363.50,68.10 C365.75,68.35 368.80,68.78 372.00,69.10 C375.20,69.42 379.37,69.82 382.70,70.00 C386.03,70.18 389.45,70.20 392.00,70.20 C394.55,70.20 396.17,70.20 398.00,70.00 C399.83,69.80 401.38,69.30 403.00,69.00 C404.62,68.70 405.70,68.37 407.70,68.20 C409.70,68.03 412.50,68.00 415.00,68.00 C417.50,68.00 420.45,67.80 422.70,68.20 C424.95,68.60 426.58,69.58 428.50,70.40 C430.42,71.22 432.62,72.43 434.20,73.10 C435.78,73.77 436.72,74.10 438.00,74.40 C439.28,74.70 439.90,74.80 441.90,74.90 C443.90,75.00 445.32,74.98 450.00,75.00 C454.68,75.02 463.38,75.00 470.00,75.00 C476.62,75.00 486.42,75.00 489.70,75.00" fill="none" stroke="#4e9e4e" stroke-width="1.10" stroke-linejoin="round"/>
<path d="M336.90,75.00 C344.08,75.00 366.15,75.00 380.00,75.00 C393.85,75.00 410.33,75.02 420.00,75.00 C429.67,74.98 434.50,74.97 438.00,74.90 C441.50,74.83 439.97,74.95 441.00,74.60 C442.03,74.25 442.95,73.98 444.20,72.80 C445.45,71.62 447.08,69.37 448.50,67.50 C449.92,65.63 451.47,62.80 452.70,61.60 C453.93,60.40 454.67,60.30 455.90,60.30 C457.13,60.30 458.52,60.93 460.10,61.60 C461.68,62.27 463.82,63.82 465.40,64.30 C466.98,64.78 468.18,65.08 469.60,64.50 C471.02,63.92 472.40,61.95 473.90,60.80 C475.40,59.65 477.02,57.82 478.60,57.60 C480.18,57.38 481.98,58.57 483.40,59.50 C484.82,60.43 486.05,61.87 487.10,63.20 C488.15,64.53 489.27,66.78 489.70,67.50 L489.70,75.40 L336.90,75.40 Z" fill="#bdb0de" stroke="none"/>
<path d="M336.90,75.00 C344.08,75.00 366.15,75.00 380.00,75.00 C393.85,75.00 410.33,75.02 420.00,75.00 C429.67,74.98 434.50,74.97 438.00,74.90 C441.50,74.83 439.97,74.95 441.00,74.60 C442.03,74.25 442.95,73.98 444.20,72.80 C445.45,71.62 447.08,69.37 448.50,67.50 C449.92,65.63 451.47,62.80 452.70,61.60 C453.93,60.40 454.67,60.30 455.90,60.30 C457.13,60.30 458.52,60.93 460.10,61.60 C461.68,62.27 463.82,63.82 465.40,64.30 C466.98,64.78 468.18,65.08 469.60,64.50 C471.02,63.92 472.40,61.95 473.90,60.80 C475.40,59.65 477.02,57.82 478.60,57.60 C480.18,57.38 481.98,58.57 483.40,59.50 C484.82,60.43 486.05,61.87 487.10,63.20 C488.15,64.53 489.27,66.78 489.70,67.50" fill="none" stroke="#a8204f" stroke-width="1.20" stroke-linejoin="round"/>
<line x1="441.90" y1="75.10" x2="489.70" y2="75.10" stroke="#6f9c8c" stroke-width="1.00"/>
<line x1="336.90" y1="75.05" x2="439.50" y2="75.05" stroke="#c23a34" stroke-width="1.25"/>
<path d="M336.90,115.00 C337.42,114.83 338.90,114.37 340.00,114.00 C341.10,113.63 341.83,113.23 343.50,112.80 C345.17,112.37 347.75,111.67 350.00,111.40 C352.25,111.13 354.75,111.17 357.00,111.20 C359.25,111.23 361.33,111.43 363.50,111.60 C365.67,111.77 367.75,112.03 370.00,112.20 C372.25,112.37 375.23,112.60 377.00,112.60 C378.77,112.60 379.37,113.03 380.60,112.20 C381.83,111.37 383.28,109.00 384.40,107.60 C385.52,106.20 386.33,104.65 387.30,103.80 C388.27,102.95 389.08,102.50 390.20,102.50 C391.32,102.50 392.57,102.97 394.00,103.80 C395.43,104.63 397.18,106.57 398.80,107.50 C400.42,108.43 401.77,108.90 403.70,109.40 C405.63,109.90 408.00,110.48 410.40,110.50 C412.80,110.52 415.57,109.85 418.10,109.50 C420.63,109.15 423.23,108.22 425.60,108.40 C427.97,108.58 430.22,109.75 432.30,110.60 C434.38,111.45 436.50,112.73 438.10,113.50 C439.70,114.27 438.25,114.88 441.90,115.20 C445.55,115.52 452.15,115.37 460.00,115.40 C467.85,115.43 484.17,115.40 489.00,115.40 L489.00,115.40 L336.90,115.40 Z" fill="#93d593" stroke="none"/>
<path d="M336.90,115.00 C337.42,114.83 338.90,114.37 340.00,114.00 C341.10,113.63 341.83,113.23 343.50,112.80 C345.17,112.37 347.75,111.67 350.00,111.40 C352.25,111.13 354.75,111.17 357.00,111.20 C359.25,111.23 361.33,111.43 363.50,111.60 C365.67,111.77 367.75,112.03 370.00,112.20 C372.25,112.37 375.23,112.60 377.00,112.60 C378.77,112.60 379.37,113.03 380.60,112.20 C381.83,111.37 383.28,109.00 384.40,107.60 C385.52,106.20 386.33,104.65 387.30,103.80 C388.27,102.95 389.08,102.50 390.20,102.50 C391.32,102.50 392.57,102.97 394.00,103.80 C395.43,104.63 397.18,106.57 398.80,107.50 C400.42,108.43 401.77,108.90 403.70,109.40 C405.63,109.90 408.00,110.48 410.40,110.50 C412.80,110.52 415.57,109.85 418.10,109.50 C420.63,109.15 423.23,108.22 425.60,108.40 C427.97,108.58 430.22,109.75 432.30,110.60 C434.38,111.45 436.50,112.73 438.10,113.50 C439.70,114.27 438.25,114.88 441.90,115.20 C445.55,115.52 452.15,115.37 460.00,115.40 C467.85,115.43 484.17,115.40 489.00,115.40" fill="none" stroke="#4e9e4e" stroke-width="1.10" stroke-linejoin="round"/>
<path d="M336.90,114.70 C339.08,114.72 342.82,114.82 350.00,114.80 C357.18,114.78 371.67,114.63 380.00,114.60 C388.33,114.57 395.33,114.65 400.00,114.60 C404.67,114.55 405.78,114.40 408.00,114.30 C410.22,114.20 411.63,113.98 413.30,114.00 C414.97,114.02 415.22,114.28 418.00,114.40 C420.78,114.52 426.67,114.67 430.00,114.70 C433.33,114.73 436.02,114.68 438.00,114.60 C439.98,114.52 440.87,114.88 441.90,114.20 C442.93,113.52 443.40,112.23 444.20,110.50 C445.00,108.77 445.93,105.97 446.70,103.80 C447.47,101.63 448.12,99.13 448.80,97.50 C449.48,95.87 450.05,95.15 450.80,94.00 C451.55,92.85 452.55,92.10 453.30,90.60 C454.05,89.10 454.63,86.45 455.30,85.00 C455.97,83.55 456.68,82.30 457.30,81.90 C457.92,81.50 458.48,81.92 459.00,82.60 C459.52,83.28 459.93,84.63 460.40,86.00 C460.87,87.37 461.33,89.03 461.80,90.80 C462.27,92.57 462.73,94.67 463.20,96.60 C463.67,98.53 464.10,100.57 464.60,102.40 C465.10,104.23 465.58,106.20 466.20,107.60 C466.82,109.00 467.53,110.10 468.30,110.80 C469.07,111.50 469.95,111.92 470.80,111.80 C471.65,111.68 472.62,110.88 473.40,110.10 C474.18,109.32 474.82,107.87 475.50,107.10 C476.18,106.33 476.83,105.70 477.50,105.50 C478.17,105.30 478.87,105.52 479.50,105.90 C480.13,106.28 480.73,107.00 481.30,107.80 C481.87,108.60 482.38,109.78 482.90,110.70 C483.42,111.62 483.78,112.62 484.40,113.30 C485.02,113.98 485.83,114.47 486.60,114.80 C487.37,115.13 488.60,115.22 489.00,115.30 L489.00,115.40 L336.90,115.40 Z" fill="#bdb0de" stroke="none"/>
<path d="M336.90,114.70 C339.08,114.72 342.82,114.82 350.00,114.80 C357.18,114.78 371.67,114.63 380.00,114.60 C388.33,114.57 395.33,114.65 400.00,114.60 C404.67,114.55 405.78,114.40 408.00,114.30 C410.22,114.20 411.63,113.98 413.30,114.00 C414.97,114.02 415.22,114.28 418.00,114.40 C420.78,114.52 426.67,114.67 430.00,114.70 C433.33,114.73 436.02,114.68 438.00,114.60 C439.98,114.52 440.87,114.88 441.90,114.20 C442.93,113.52 443.40,112.23 444.20,110.50 C445.00,108.77 445.93,105.97 446.70,103.80 C447.47,101.63 448.12,99.13 448.80,97.50 C449.48,95.87 450.05,95.15 450.80,94.00 C451.55,92.85 452.55,92.10 453.30,90.60 C454.05,89.10 454.63,86.45 455.30,85.00 C455.97,83.55 456.68,82.30 457.30,81.90 C457.92,81.50 458.48,81.92 459.00,82.60 C459.52,83.28 459.93,84.63 460.40,86.00 C460.87,87.37 461.33,89.03 461.80,90.80 C462.27,92.57 462.73,94.67 463.20,96.60 C463.67,98.53 464.10,100.57 464.60,102.40 C465.10,104.23 465.58,106.20 466.20,107.60 C466.82,109.00 467.53,110.10 468.30,110.80 C469.07,111.50 469.95,111.92 470.80,111.80 C471.65,111.68 472.62,110.88 473.40,110.10 C474.18,109.32 474.82,107.87 475.50,107.10 C476.18,106.33 476.83,105.70 477.50,105.50 C478.17,105.30 478.87,105.52 479.50,105.90 C480.13,106.28 480.73,107.00 481.30,107.80 C481.87,108.60 482.38,109.78 482.90,110.70 C483.42,111.62 483.78,112.62 484.40,113.30 C485.02,113.98 485.83,114.47 486.60,114.80 C487.37,115.13 488.60,115.22 489.00,115.30" fill="none" stroke="#a8204f" stroke-width="1.20" stroke-linejoin="round"/>
<line x1="441.90" y1="115.40" x2="489.00" y2="115.40" stroke="#6f9c8c" stroke-width="1.00"/>
<rect x="336.90" y="115.20" width="105.00" height="1.90" fill="#dcb8c4" stroke="none" stroke-width="0.00"/>
<path d="M336.90,114.80 C339.08,114.82 342.82,114.92 350.00,114.90 C357.18,114.88 371.67,114.73 380.00,114.70 C388.33,114.67 395.33,114.75 400.00,114.70 C404.67,114.65 405.78,114.50 408.00,114.40 C410.22,114.30 411.63,114.08 413.30,114.10 C414.97,114.12 415.22,114.38 418.00,114.50 C420.78,114.62 426.33,114.77 430.00,114.80 C433.67,114.83 438.33,114.72 440.00,114.70" fill="none" stroke="#b8403c" stroke-width="1.0"/>
<line x1="329.40" y1="39.80" x2="329.40" y2="77.20" stroke="#2e2e2e" stroke-width="1.10"/>
<line x1="329.40" y1="79.90" x2="329.40" y2="118.20" stroke="#2e2e2e" stroke-width="1.10"/>
<line x1="328.90" y1="117.70" x2="496.70" y2="117.70" stroke="#2e2e2e" stroke-width="1.10"/>
<line x1="326.40" y1="75.20" x2="329.40" y2="75.20" stroke="#2e2e2e" stroke-width="0.90"/>
<text x="322.60" y="77.40" font-size="6.30" text-anchor="end" fill="#333" stroke="#333" stroke-width="0.15" font-weight="normal">0.0</text>
<line x1="326.40" y1="115.40" x2="329.40" y2="115.40" stroke="#2e2e2e" stroke-width="0.90"/>
<text x="322.60" y="117.60" font-size="6.30" text-anchor="end" fill="#333" stroke="#333" stroke-width="0.15" font-weight="normal">0.0</text>
<line x1="326.40" y1="66.65" x2="329.40" y2="66.65" stroke="#2e2e2e" stroke-width="0.90"/>
<text x="322.60" y="68.85" font-size="6.30" text-anchor="end" fill="#333" stroke="#333" stroke-width="0.15" font-weight="normal">0.1</text>
<line x1="326.40" y1="106.90" x2="329.40" y2="106.90" stroke="#2e2e2e" stroke-width="0.90"/>
<text x="322.60" y="109.10" font-size="6.30" text-anchor="end" fill="#333" stroke="#333" stroke-width="0.15" font-weight="normal">0.1</text>
<line x1="326.40" y1="58.10" x2="329.40" y2="58.10" stroke="#2e2e2e" stroke-width="0.90"/>
<text x="322.60" y="60.30" font-size="6.30" text-anchor="end" fill="#333" stroke="#333" stroke-width="0.15" font-weight="normal">0.2</text>
<line x1="326.40" y1="98.40" x2="329.40" y2="98.40" stroke="#2e2e2e" stroke-width="0.90"/>
<text x="322.60" y="100.60" font-size="6.30" text-anchor="end" fill="#333" stroke="#333" stroke-width="0.15" font-weight="normal">0.2</text>
<line x1="326.40" y1="49.55" x2="329.40" y2="49.55" stroke="#2e2e2e" stroke-width="0.90"/>
<text x="322.60" y="51.75" font-size="6.30" text-anchor="end" fill="#333" stroke="#333" stroke-width="0.15" font-weight="normal">0.3</text>
<line x1="326.40" y1="89.90" x2="329.40" y2="89.90" stroke="#2e2e2e" stroke-width="0.90"/>
<text x="322.60" y="92.10" font-size="6.30" text-anchor="end" fill="#333" stroke="#333" stroke-width="0.15" font-weight="normal">0.3</text>
<line x1="326.40" y1="41.00" x2="329.40" y2="41.00" stroke="#2e2e2e" stroke-width="0.90"/>
<text x="322.60" y="43.20" font-size="6.30" text-anchor="end" fill="#333" stroke="#333" stroke-width="0.15" font-weight="normal">0.4</text>
<line x1="326.40" y1="81.40" x2="329.40" y2="81.40" stroke="#2e2e2e" stroke-width="0.90"/>
<text x="322.60" y="83.60" font-size="6.30" text-anchor="end" fill="#333" stroke="#333" stroke-width="0.15" font-weight="normal">0.4</text>
<line x1="336.90" y1="117.70" x2="336.90" y2="120.30" stroke="#2e2e2e" stroke-width="0.90"/>
<text x="336.90" y="130.40" font-size="6.30" text-anchor="middle" fill="#333" stroke="#333" stroke-width="0.15" font-weight="normal">0</text>
<line x1="372.10" y1="117.70" x2="372.10" y2="120.30" stroke="#2e2e2e" stroke-width="0.90"/>
<text x="372.10" y="130.40" font-size="6.30" text-anchor="middle" fill="#333" stroke="#333" stroke-width="0.15" font-weight="normal">5</text>
<line x1="407.30" y1="117.70" x2="407.30" y2="120.30" stroke="#2e2e2e" stroke-width="0.90"/>
<text x="407.30" y="130.40" font-size="6.30" text-anchor="middle" fill="#333" stroke="#333" stroke-width="0.15" font-weight="normal">10</text>
<line x1="442.50" y1="117.70" x2="442.50" y2="120.30" stroke="#2e2e2e" stroke-width="0.90"/>
<text x="442.50" y="130.40" font-size="6.30" text-anchor="middle" fill="#333" stroke="#333" stroke-width="0.15" font-weight="normal">15</text>
<line x1="477.70" y1="117.70" x2="477.70" y2="120.30" stroke="#2e2e2e" stroke-width="0.90"/>
<text x="477.70" y="130.40" font-size="6.30" text-anchor="middle" fill="#333" stroke="#333" stroke-width="0.15" font-weight="normal">20</text>
<text x="413.30" y="142.30" font-size="8.50" text-anchor="middle" fill="#2b2b2b" stroke="#2b2b2b" stroke-width="0.10" font-weight="bold" textLength="71.90" lengthAdjust="spacingAndGlyphs">Developmental progression</text>
<text transform="translate(304.80 78.40) rotate(-90) scale(0.6469 1)" x="0" y="2.89" font-size="8.40" text-anchor="middle" fill="#222" stroke="#222" stroke-width="0.10" font-weight="bold">Cell density</text>
<text transform="translate(503.40 58.10) rotate(90) scale(0.9944 1)" x="0" y="2.24" font-size="6.50" text-anchor="middle" fill="#333" stroke="#333" stroke-width="0.15" font-weight="normal">Vehicle</text>
<text transform="translate(503.40 98.60) rotate(90) scale(0.9029 1)" x="0" y="2.24" font-size="6.50" text-anchor="middle" fill="#333" stroke="#333" stroke-width="0.15" font-weight="normal">TCDD</text>
<rect x="381.00" y="148.60" width="7.00" height="7.00" fill="#98dc98" stroke="#5aa55a" stroke-width="1.00"/>
<text x="390.80" y="154.00" font-size="6.30" text-anchor="start" fill="#333" stroke="#333" stroke-width="0.15" font-weight="normal" textLength="11.90" lengthAdjust="spacingAndGlyphs">MPP</text>
<rect x="410.20" y="148.60" width="7.00" height="7.00" fill="#a890cc" stroke="#b0186a" stroke-width="1.00"/>
<text x="420.40" y="154.00" font-size="6.30" text-anchor="start" fill="#333" stroke="#333" stroke-width="0.15" font-weight="normal" textLength="25.60" lengthAdjust="spacingAndGlyphs">Lymphoid</text>
<text x="312.30" y="175.00" font-size="9.00" text-anchor="start" fill="#222" stroke="#222" stroke-width="0.15" font-weight="normal" textLength="200.00" lengthAdjust="spacingAndGlyphs">Trajectory of Development: MPP to Lymphoid Cluster</text>
<text x="368.80" y="189.90" font-size="8.60" text-anchor="middle" fill="#222" stroke="#222" stroke-width="0.15" font-weight="normal" textLength="27.00" lengthAdjust="spacingAndGlyphs">RASD1</text>
<line x1="333.50" y1="195.00" x2="333.50" y2="220.70" stroke="#2e2e2e" stroke-width="1.10"/>
<line x1="333.00" y1="220.20" x2="405.40" y2="220.20" stroke="#2e2e2e" stroke-width="1.10"/>
<line x1="330.50" y1="216.90" x2="333.50" y2="216.90" stroke="#2e2e2e" stroke-width="0.90"/>
<text x="328.80" y="219.20" font-size="6.60" text-anchor="end" fill="#333" stroke="#333" stroke-width="0.15" font-weight="normal">0.0</text>
<line x1="330.50" y1="207.90" x2="333.50" y2="207.90" stroke="#2e2e2e" stroke-width="0.90"/>
<text x="328.80" y="210.20" font-size="6.60" text-anchor="end" fill="#333" stroke="#333" stroke-width="0.15" font-weight="normal">0.5</text>
<line x1="330.50" y1="198.80" x2="333.50" y2="198.80" stroke="#2e2e2e" stroke-width="0.90"/>
<text x="328.80" y="201.10" font-size="6.60" text-anchor="end" fill="#333" stroke="#333" stroke-width="0.15" font-weight="normal">1.0</text>
<line x1="336.20" y1="220.20" x2="336.20" y2="222.60" stroke="#2e2e2e" stroke-width="0.90"/>
<text x="336.20" y="232.70" font-size="6.80" text-anchor="middle" fill="#333" stroke="#333" stroke-width="0.15" font-weight="normal">0</text>
<line x1="351.57" y1="220.20" x2="351.57" y2="222.60" stroke="#2e2e2e" stroke-width="0.90"/>
<text x="351.57" y="232.70" font-size="6.80" text-anchor="middle" fill="#333" stroke="#333" stroke-width="0.15" font-weight="normal">5</text>
<line x1="366.94" y1="220.20" x2="366.94" y2="222.60" stroke="#2e2e2e" stroke-width="0.90"/>
<text x="366.94" y="232.70" font-size="6.80" text-anchor="middle" fill="#333" stroke="#333" stroke-width="0.15" font-weight="normal">10</text>
<line x1="382.31" y1="220.20" x2="382.31" y2="222.60" stroke="#2e2e2e" stroke-width="0.90"/>
<text x="382.31" y="232.70" font-size="6.80" text-anchor="middle" fill="#333" stroke="#333" stroke-width="0.15" font-weight="normal">15</text>
<line x1="397.68" y1="220.20" x2="397.68" y2="222.60" stroke="#2e2e2e" stroke-width="0.90"/>
<text x="397.68" y="232.70" font-size="6.80" text-anchor="middle" fill="#333" stroke="#333" stroke-width="0.15" font-weight="normal">20</text>
<path d="M336.20,216.80 C337.67,216.78 342.70,216.77 345.00,216.70 C347.30,216.63 348.40,216.52 350.00,216.40 C351.60,216.28 353.27,215.98 354.60,216.00 C355.93,216.02 356.27,216.38 358.00,216.50 C359.73,216.62 361.47,216.70 365.00,216.70 C368.53,216.70 376.27,216.85 379.20,216.50 C382.13,216.15 381.32,216.27 382.60,214.60 C383.88,212.93 385.67,209.22 386.90,206.50 C388.13,203.78 389.10,200.45 390.00,198.30 C390.90,196.15 391.53,194.02 392.30,193.60 C393.07,193.18 393.70,194.58 394.60,195.80 C395.50,197.02 396.80,199.90 397.70,200.90 C398.60,201.90 399.10,202.53 400.00,201.80 C400.90,201.07 402.58,197.38 403.10,196.50" fill="none" stroke="#c2244c" stroke-width="1.1" stroke-linejoin="round"/>
<path d="M336.20,217.00 C340.17,216.98 352.57,216.98 360.00,216.90 C367.43,216.82 376.83,216.77 380.80,216.50 C384.77,216.23 382.93,215.88 383.80,215.30 C384.67,214.72 385.22,213.63 386.00,213.00 C386.78,212.37 387.33,211.97 388.50,211.50 C389.67,211.03 390.95,210.55 393.00,210.20 C395.05,209.85 399.50,209.53 400.80,209.40" fill="none" stroke="#456585" stroke-width="1.10" stroke-linejoin="round"/>
<text x="471.30" y="187.80" font-size="8.60" text-anchor="middle" fill="#222" stroke="#222" stroke-width="0.15" font-weight="normal" textLength="19.70" lengthAdjust="spacingAndGlyphs">MME</text>
<line x1="434.50" y1="193.60" x2="434.50" y2="220.40" stroke="#2e2e2e" stroke-width="1.10"/>
<line x1="434.00" y1="219.90" x2="504.60" y2="219.90" stroke="#2e2e2e" stroke-width="1.10"/>
<line x1="431.50" y1="216.60" x2="434.50" y2="216.60" stroke="#2e2e2e" stroke-width="0.90"/>
<text x="428.80" y="218.90" font-size="6.20" text-anchor="end" fill="#333" stroke="#333" stroke-width="0.15" font-weight="normal" textLength="12.60" lengthAdjust="spacingAndGlyphs">0.00</text>
<line x1="431.50" y1="211.50" x2="434.50" y2="211.50" stroke="#2e2e2e" stroke-width="0.90"/>
<text x="428.80" y="213.80" font-size="6.20" text-anchor="end" fill="#333" stroke="#333" stroke-width="0.15" font-weight="normal" textLength="12.60" lengthAdjust="spacingAndGlyphs">0.25</text>
<line x1="431.50" y1="206.40" x2="434.50" y2="206.40" stroke="#2e2e2e" stroke-width="0.90"/>
<text x="428.80" y="208.70" font-size="6.20" text-anchor="end" fill="#333" stroke="#333" stroke-width="0.15" font-weight="normal" textLength="12.60" lengthAdjust="spacingAndGlyphs">0.50</text>
<line x1="431.50" y1="201.30" x2="434.50" y2="201.30" stroke="#2e2e2e" stroke-width="0.90"/>
<text x="428.80" y="203.60" font-size="6.20" text-anchor="end" fill="#333" stroke="#333" stroke-width="0.15" font-weight="normal" textLength="12.60" lengthAdjust="spacingAndGlyphs">0.75</text>
<line x1="431.50" y1="196.20" x2="434.50" y2="196.20" stroke="#2e2e2e" stroke-width="0.90"/>
<text x="428.80" y="198.50" font-size="6.20" text-anchor="end" fill="#333" stroke="#333" stroke-width="0.15" font-weight="normal" textLength="12.60" lengthAdjust="spacingAndGlyphs">1.00</text>
<line x1="438.10" y1="219.90" x2="438.10" y2="222.30" stroke="#2e2e2e" stroke-width="0.90"/>
<text x="438.10" y="232.40" font-size="6.80" text-anchor="middle" fill="#333" stroke="#333" stroke-width="0.15" font-weight="normal">0</text>
<line x1="453.35" y1="219.90" x2="453.35" y2="222.30" stroke="#2e2e2e" stroke-width="0.90"/>
<text x="453.35" y="232.40" font-size="6.80" text-anchor="middle" fill="#333" stroke="#333" stroke-width="0.15" font-weight="normal">5</text>
<line x1="468.60" y1="219.90" x2="468.60" y2="222.30" stroke="#2e2e2e" stroke-width="0.90"/>
<text x="468.60" y="232.40" font-size="6.80" text-anchor="middle" fill="#333" stroke="#333" stroke-width="0.15" font-weight="normal">10</text>
<line x1="483.85" y1="219.90" x2="483.85" y2="222.30" stroke="#2e2e2e" stroke-width="0.90"/>
<text x="483.85" y="232.40" font-size="6.80" text-anchor="middle" fill="#333" stroke="#333" stroke-width="0.15" font-weight="normal">15</text>
<line x1="499.10" y1="219.90" x2="499.10" y2="222.30" stroke="#2e2e2e" stroke-width="0.90"/>
<text x="499.10" y="232.40" font-size="6.80" text-anchor="middle" fill="#333" stroke="#333" stroke-width="0.15" font-weight="normal">20</text>
<path d="M438.10,216.80 C443.42,216.80 462.63,216.80 470.00,216.80 C477.37,216.80 479.73,216.75 482.30,216.80 C484.87,216.85 484.50,217.22 485.40,217.10 C486.30,216.98 486.93,216.98 487.70,216.10 C488.47,215.22 489.23,213.40 490.00,211.80 C490.77,210.20 491.53,208.15 492.30,206.50 C493.07,204.85 493.90,202.73 494.60,201.90 C495.30,201.07 495.80,201.38 496.50,201.50 C497.20,201.62 498.08,202.55 498.80,202.60 C499.52,202.65 500.15,202.43 500.80,201.80 C501.45,201.17 502.07,199.97 502.70,198.80 C503.33,197.63 504.28,195.47 504.60,194.80" fill="none" stroke="#c2244c" stroke-width="1.1" stroke-linejoin="round"/>
<path d="M438.10,216.80 C443.42,216.80 462.63,216.82 470.00,216.80 C477.37,216.78 479.73,216.95 482.30,216.70 C484.87,216.45 484.37,215.72 485.40,215.30 C486.43,214.88 487.48,214.50 488.50,214.20 C489.52,213.90 490.48,213.57 491.50,213.50 C492.52,213.43 493.57,213.57 494.60,213.80 C495.63,214.03 496.67,214.43 497.70,214.90 C498.73,215.37 499.97,216.17 500.80,216.60 C501.63,217.03 502.38,217.35 502.70,217.50" fill="none" stroke="#456585" stroke-width="1.10" stroke-linejoin="round"/>
<text x="369.00" y="251.00" font-size="8.60" text-anchor="middle" fill="#222" stroke="#222" stroke-width="0.15" font-weight="normal" textLength="20.30" lengthAdjust="spacingAndGlyphs">EBF1</text>
<line x1="333.70" y1="256.90" x2="333.70" y2="289.10" stroke="#2e2e2e" stroke-width="1.10"/>
<line x1="333.20" y1="288.60" x2="405.40" y2="288.60" stroke="#2e2e2e" stroke-width="1.10"/>
<line x1="330.70" y1="285.50" x2="333.70" y2="285.50" stroke="#2e2e2e" stroke-width="0.90"/>
<text x="328.90" y="287.80" font-size="6.60" text-anchor="end" fill="#333" stroke="#333" stroke-width="0.15" font-weight="normal">0.0</text>
<line x1="330.70" y1="276.90" x2="333.70" y2="276.90" stroke="#2e2e2e" stroke-width="0.90"/>
<text x="328.90" y="279.20" font-size="6.60" text-anchor="end" fill="#333" stroke="#333" stroke-width="0.15" font-weight="normal">0.5</text>
<line x1="330.70" y1="268.30" x2="333.70" y2="268.30" stroke="#2e2e2e" stroke-width="0.90"/>
<text x="328.90" y="270.60" font-size="6.60" text-anchor="end" fill="#333" stroke="#333" stroke-width="0.15" font-weight="normal">1.0</text>
<line x1="330.70" y1="259.70" x2="333.70" y2="259.70" stroke="#2e2e2e" stroke-width="0.90"/>
<text x="328.90" y="262.00" font-size="6.60" text-anchor="end" fill="#333" stroke="#333" stroke-width="0.15" font-weight="normal">1.5</text>
<line x1="336.60" y1="288.60" x2="336.60" y2="291.00" stroke="#2e2e2e" stroke-width="0.90"/>
<text x="336.60" y="301.10" font-size="6.80" text-anchor="middle" fill="#333" stroke="#333" stroke-width="0.15" font-weight="normal">0</text>
<line x1="351.78" y1="288.60" x2="351.78" y2="291.00" stroke="#2e2e2e" stroke-width="0.90"/>
<text x="351.78" y="301.10" font-size="6.80" text-anchor="middle" fill="#333" stroke="#333" stroke-width="0.15" font-weight="normal">5</text>
<line x1="366.96" y1="288.60" x2="366.96" y2="291.00" stroke="#2e2e2e" stroke-width="0.90"/>
<text x="366.96" y="301.10" font-size="6.80" text-anchor="middle" fill="#333" stroke="#333" stroke-width="0.15" font-weight="normal">10</text>
<line x1="382.14" y1="288.60" x2="382.14" y2="291.00" stroke="#2e2e2e" stroke-width="0.90"/>
<text x="382.14" y="301.10" font-size="6.80" text-anchor="middle" fill="#333" stroke="#333" stroke-width="0.15" font-weight="normal">15</text>
<line x1="397.32" y1="288.60" x2="397.32" y2="291.00" stroke="#2e2e2e" stroke-width="0.90"/>
<text x="397.32" y="301.10" font-size="6.80" text-anchor="middle" fill="#333" stroke="#333" stroke-width="0.15" font-weight="normal">20</text>
<path d="M390.10,285.40 C390.42,285.23 391.28,285.08 392.00,284.40 C392.72,283.72 393.65,282.57 394.40,281.30 C395.15,280.03 395.80,278.38 396.50,276.80 C397.20,275.22 397.90,273.45 398.60,271.80 C399.30,270.15 400.00,268.50 400.70,266.90 C401.40,265.30 402.45,262.98 402.80,262.20" fill="none" stroke="#c2244c" stroke-width="1.1" stroke-linejoin="round"/>
<path d="M336.60,285.60 C347.32,285.60 390.18,285.60 400.90,285.60" fill="none" stroke="#4d6a8a" stroke-width="1.60" stroke-linejoin="round"/>
<text x="468.70" y="252.00" font-size="8.60" text-anchor="middle" fill="#222" stroke="#222" stroke-width="0.15" font-weight="normal" textLength="39.40" lengthAdjust="spacingAndGlyphs">FAM129C</text>
<line x1="432.80" y1="257.30" x2="432.80" y2="289.10" stroke="#2e2e2e" stroke-width="1.10"/>
<line x1="432.30" y1="288.60" x2="504.60" y2="288.60" stroke="#2e2e2e" stroke-width="1.10"/>
<line x1="429.80" y1="284.80" x2="432.80" y2="284.80" stroke="#2e2e2e" stroke-width="0.90"/>
<text x="426.60" y="287.10" font-size="6.60" text-anchor="end" fill="#333" stroke="#333" stroke-width="0.15" font-weight="normal">0.0</text>
<line x1="429.80" y1="278.70" x2="432.80" y2="278.70" stroke="#2e2e2e" stroke-width="0.90"/>
<text x="426.60" y="281.00" font-size="6.60" text-anchor="end" fill="#333" stroke="#333" stroke-width="0.15" font-weight="normal">0.2</text>
<line x1="429.80" y1="272.50" x2="432.80" y2="272.50" stroke="#2e2e2e" stroke-width="0.90"/>
<text x="426.60" y="274.80" font-size="6.60" text-anchor="end" fill="#333" stroke="#333" stroke-width="0.15" font-weight="normal">0.4</text>
<line x1="429.80" y1="266.30" x2="432.80" y2="266.30" stroke="#2e2e2e" stroke-width="0.90"/>
<text x="426.60" y="268.60" font-size="6.60" text-anchor="end" fill="#333" stroke="#333" stroke-width="0.15" font-weight="normal">0.6</text>
<line x1="429.80" y1="260.10" x2="432.80" y2="260.10" stroke="#2e2e2e" stroke-width="0.90"/>
<text x="426.60" y="262.40" font-size="6.60" text-anchor="end" fill="#333" stroke="#333" stroke-width="0.15" font-weight="normal">0.8</text>
<line x1="435.50" y1="288.60" x2="435.50" y2="291.00" stroke="#2e2e2e" stroke-width="0.90"/>
<text x="435.50" y="301.10" font-size="6.80" text-anchor="middle" fill="#333" stroke="#333" stroke-width="0.15" font-weight="normal">0</text>
<line x1="450.78" y1="288.60" x2="450.78" y2="291.00" stroke="#2e2e2e" stroke-width="0.90"/>
<text x="450.78" y="301.10" font-size="6.80" text-anchor="middle" fill="#333" stroke="#333" stroke-width="0.15" font-weight="normal">5</text>
<line x1="466.06" y1="288.60" x2="466.06" y2="291.00" stroke="#2e2e2e" stroke-width="0.90"/>
<text x="466.06" y="301.10" font-size="6.80" text-anchor="middle" fill="#333" stroke="#333" stroke-width="0.15" font-weight="normal">10</text>
<line x1="481.34" y1="288.60" x2="481.34" y2="291.00" stroke="#2e2e2e" stroke-width="0.90"/>
<text x="481.34" y="301.10" font-size="6.80" text-anchor="middle" fill="#333" stroke="#333" stroke-width="0.15" font-weight="normal">15</text>
<line x1="496.62" y1="288.60" x2="496.62" y2="291.00" stroke="#2e2e2e" stroke-width="0.90"/>
<text x="496.62" y="301.10" font-size="6.80" text-anchor="middle" fill="#333" stroke="#333" stroke-width="0.15" font-weight="normal">20</text>
<path d="M475.00,284.80 C475.53,284.38 476.95,283.42 478.20,282.30 C479.45,281.18 481.08,279.22 482.50,278.10 C483.92,276.98 485.47,276.05 486.70,275.60 C487.93,275.15 488.85,275.97 489.90,275.40 C490.95,274.83 491.77,273.23 493.00,272.20 C494.23,271.17 495.72,270.77 497.30,269.20 C498.88,267.63 501.63,263.87 502.50,262.80" fill="none" stroke="#c2244c" stroke-width="1.1" stroke-linejoin="round"/>
<path d="M435.50,284.90 C446.32,284.90 489.58,284.90 500.40,284.90" fill="none" stroke="#4d6a8a" stroke-width="1.60" stroke-linejoin="round"/>
<text transform="translate(309.30 241.80) rotate(-90) scale(0.6968 1)" x="0" y="2.68" font-size="7.80" text-anchor="middle" fill="#222" stroke="#222" stroke-width="0.10" font-weight="bold">Gene expression</text>
<text x="412.60" y="313.50" font-size="8.70" text-anchor="middle" fill="#2b2b2b" stroke="#2b2b2b" stroke-width="0.10" font-weight="bold" textLength="70.80" lengthAdjust="spacingAndGlyphs">Developmental progression</text>
<line x1="379.50" y1="322.00" x2="386.90" y2="322.00" stroke="#c2244c" stroke-width="1.30"/>
<text x="390.00" y="324.30" font-size="6.20" text-anchor="start" fill="#444" stroke="#444" stroke-width="0.15" font-weight="normal" textLength="18.50" lengthAdjust="spacingAndGlyphs">Vehicle</text>
<line x1="419.20" y1="322.00" x2="426.60" y2="322.00" stroke="#456585" stroke-width="1.30"/>
<text x="429.20" y="324.30" font-size="6.20" text-anchor="start" fill="#444" stroke="#444" stroke-width="0.15" font-weight="normal" textLength="16.20" lengthAdjust="spacingAndGlyphs">TCDD</text>
<text x="330.70" y="346.30" font-size="11.30" text-anchor="start" fill="#111" stroke="#111" stroke-width="0.10" font-weight="bold">C</text>
<text x="393.10" y="350.80" font-size="8.60" text-anchor="start" fill="#222" stroke="#222" stroke-width="0.15" font-weight="normal" textLength="32.70" lengthAdjust="spacingAndGlyphs">BCL11A</text>
<text x="428.10" y="347.90" font-size="6.30" text-anchor="middle" fill="#222" stroke="#222" stroke-width="0.15" font-weight="normal">+</text>
<text x="433.10" y="350.80" font-size="8.60" text-anchor="start" fill="#222" stroke="#222" stroke-width="0.15" font-weight="normal" textLength="16.90" lengthAdjust="spacingAndGlyphs">cells</text>
<rect x="382.20" y="397.30" width="7.60" height="60.40" fill="#db524a" stroke="none" stroke-width="0.00"/>
<line x1="386.00" y1="394.20" x2="386.00" y2="403.50" stroke="#3c3c3c" stroke-width="0.90"/>
<line x1="384.70" y1="394.20" x2="387.30" y2="394.20" stroke="#3c3c3c" stroke-width="0.90"/>
<line x1="384.70" y1="403.50" x2="387.30" y2="403.50" stroke="#3c3c3c" stroke-width="0.90"/>
<circle cx="385.90" cy="384.50" r="2.10" fill="#c40f30" stroke="#9c0c26" stroke-width="0.30"/>
<circle cx="383.80" cy="392.70" r="2.10" fill="#c40f30" stroke="#9c0c26" stroke-width="0.30"/>
<circle cx="388.00" cy="391.20" r="2.10" fill="#c40f30" stroke="#9c0c26" stroke-width="0.30"/>
<circle cx="386.20" cy="397.30" r="2.10" fill="#c40f30" stroke="#9c0c26" stroke-width="0.30"/>
<circle cx="385.80" cy="419.40" r="2.10" fill="#c40f30" stroke="#9c0c26" stroke-width="0.30"/>
<rect x="393.70" y="412.70" width="7.20" height="45.00" fill="#4b6fa9" stroke="none" stroke-width="0.00"/>
<circle cx="397.40" cy="401.20" r="2.10" fill="#173f78" stroke="#123260" stroke-width="0.30"/>
<circle cx="398.90" cy="407.60" r="2.10" fill="#173f78" stroke="#123260" stroke-width="0.30"/>
<circle cx="395.40" cy="411.60" r="2.10" fill="#173f78" stroke="#123260" stroke-width="0.30"/>
<circle cx="397.70" cy="416.50" r="2.10" fill="#173f78" stroke="#123260" stroke-width="0.30"/>
<circle cx="397.50" cy="422.90" r="2.10" fill="#173f78" stroke="#123260" stroke-width="0.30"/>
<rect x="412.30" y="403.90" width="7.60" height="53.80" fill="#db524a" stroke="none" stroke-width="0.00"/>
<line x1="416.10" y1="396.80" x2="416.10" y2="409.60" stroke="#3c3c3c" stroke-width="0.90"/>
<line x1="414.80" y1="396.80" x2="417.40" y2="396.80" stroke="#3c3c3c" stroke-width="0.90"/>
<line x1="414.80" y1="409.60" x2="417.40" y2="409.60" stroke="#3c3c3c" stroke-width="0.90"/>
<circle cx="416.20" cy="387.00" r="2.10" fill="#c40f30" stroke="#9c0c26" stroke-width="0.30"/>
<circle cx="416.20" cy="392.70" r="2.10" fill="#c40f30" stroke="#9c0c26" stroke-width="0.30"/>
<circle cx="416.20" cy="401.20" r="2.10" fill="#c40f30" stroke="#9c0c26" stroke-width="0.30"/>
<circle cx="416.20" cy="415.00" r="2.10" fill="#c40f30" stroke="#9c0c26" stroke-width="0.30"/>
<circle cx="416.20" cy="423.50" r="2.10" fill="#c40f30" stroke="#9c0c26" stroke-width="0.30"/>
<rect x="423.80" y="413.00" width="7.60" height="44.70" fill="#4b6fa9" stroke="none" stroke-width="0.00"/>
<line x1="427.60" y1="405.50" x2="427.60" y2="421.00" stroke="#3c3c3c" stroke-width="0.90"/>
<line x1="426.30" y1="405.50" x2="428.90" y2="405.50" stroke="#3c3c3c" stroke-width="0.90"/>
<line x1="426.30" y1="421.00" x2="428.90" y2="421.00" stroke="#3c3c3c" stroke-width="0.90"/>
<circle cx="427.70" cy="383.00" r="2.10" fill="#173f78" stroke="#123260" stroke-width="0.30"/>
<circle cx="427.70" cy="405.50" r="2.10" fill="#173f78" stroke="#123260" stroke-width="0.30"/>
<circle cx="428.20" cy="419.40" r="2.10" fill="#173f78" stroke="#123260" stroke-width="0.30"/>
<circle cx="429.20" cy="426.60" r="2.10" fill="#173f78" stroke="#123260" stroke-width="0.30"/>
<circle cx="426.40" cy="428.60" r="2.10" fill="#173f78" stroke="#123260" stroke-width="0.30"/>
<rect x="443.00" y="407.50" width="7.40" height="50.20" fill="#db524a" stroke="none" stroke-width="0.00"/>
<circle cx="446.80" cy="401.30" r="2.10" fill="#c40f30" stroke="#9c0c26" stroke-width="0.30"/>
<circle cx="444.40" cy="404.10" r="2.10" fill="#c40f30" stroke="#9c0c26" stroke-width="0.30"/>
<circle cx="448.80" cy="405.10" r="2.10" fill="#c40f30" stroke="#9c0c26" stroke-width="0.30"/>
<circle cx="446.30" cy="408.50" r="2.10" fill="#c40f30" stroke="#9c0c26" stroke-width="0.30"/>
<circle cx="445.90" cy="414.70" r="2.10" fill="#c40f30" stroke="#9c0c26" stroke-width="0.30"/>
<rect x="454.10" y="415.70" width="7.60" height="42.00" fill="#4b6fa9" stroke="none" stroke-width="0.00"/>
<circle cx="457.90" cy="407.00" r="2.10" fill="#173f78" stroke="#123260" stroke-width="0.30"/>
<circle cx="457.90" cy="411.80" r="2.10" fill="#173f78" stroke="#123260" stroke-width="0.30"/>
<circle cx="457.90" cy="419.00" r="2.10" fill="#173f78" stroke="#123260" stroke-width="0.30"/>
<circle cx="456.40" cy="419.40" r="2.10" fill="#173f78" stroke="#123260" stroke-width="0.30"/>
<line x1="378.30" y1="367.20" x2="378.30" y2="458.25" stroke="#2e2e2e" stroke-width="1.10"/>
<line x1="377.80" y1="457.70" x2="463.60" y2="457.70" stroke="#2e2e2e" stroke-width="1.10"/>
<line x1="375.40" y1="457.60" x2="378.30" y2="457.60" stroke="#2e2e2e" stroke-width="0.90"/>
<text x="372.40" y="460.20" font-size="6.30" text-anchor="end" fill="#3a3a3a" stroke="#3a3a3a" stroke-width="0.15" font-weight="normal">0</text>
<line x1="375.40" y1="440.15" x2="378.30" y2="440.15" stroke="#2e2e2e" stroke-width="0.90"/>
<text x="372.40" y="442.75" font-size="6.30" text-anchor="end" fill="#3a3a3a" stroke="#3a3a3a" stroke-width="0.15" font-weight="normal">20</text>
<line x1="375.40" y1="422.70" x2="378.30" y2="422.70" stroke="#2e2e2e" stroke-width="0.90"/>
<text x="372.40" y="425.30" font-size="6.30" text-anchor="end" fill="#3a3a3a" stroke="#3a3a3a" stroke-width="0.15" font-weight="normal">40</text>
<line x1="375.40" y1="405.25" x2="378.30" y2="405.25" stroke="#2e2e2e" stroke-width="0.90"/>
<text x="372.40" y="407.85" font-size="6.30" text-anchor="end" fill="#3a3a3a" stroke="#3a3a3a" stroke-width="0.15" font-weight="normal">60</text>
<line x1="375.40" y1="387.80" x2="378.30" y2="387.80" stroke="#2e2e2e" stroke-width="0.90"/>
<text x="372.40" y="390.40" font-size="6.30" text-anchor="end" fill="#3a3a3a" stroke="#3a3a3a" stroke-width="0.15" font-weight="normal">80</text>
<line x1="375.40" y1="370.35" x2="378.30" y2="370.35" stroke="#2e2e2e" stroke-width="0.90"/>
<text x="372.40" y="372.95" font-size="6.30" text-anchor="end" fill="#3a3a3a" stroke="#3a3a3a" stroke-width="0.15" font-weight="normal">100</text>
<line x1="391.30" y1="457.70" x2="391.30" y2="459.90" stroke="#2e2e2e" stroke-width="0.90"/>
<line x1="421.30" y1="457.70" x2="421.30" y2="459.90" stroke="#2e2e2e" stroke-width="0.90"/>
<line x1="452.00" y1="457.70" x2="452.00" y2="459.90" stroke="#2e2e2e" stroke-width="0.90"/>
<path d="M385.50,375.90 L385.50,368.50 L399.20,368.50 L399.20,375.90" fill="none" stroke="#3a3a3a" stroke-width="1.15"/>
<circle cx="392.30" cy="363.50" r="1.00" fill="#222" stroke="none" stroke-width="0.00"/>
<path d="M446.10,376.00 L446.10,368.60 L458.30,368.60 L458.30,376.00" fill="none" stroke="#3a3a3a" stroke-width="1.15"/>
<circle cx="452.30" cy="363.30" r="1.00" fill="#222" stroke="none" stroke-width="0.00"/>
<text x="391.30" y="470.00" font-size="6.40" text-anchor="middle" fill="#333" stroke="#333" stroke-width="0.15" font-weight="normal">14</text>
<text x="421.30" y="470.00" font-size="6.40" text-anchor="middle" fill="#333" stroke="#333" stroke-width="0.15" font-weight="normal">21</text>
<text x="452.00" y="470.00" font-size="6.40" text-anchor="middle" fill="#333" stroke="#333" stroke-width="0.15" font-weight="normal">28</text>
<text x="421.60" y="481.60" font-size="8.20" text-anchor="middle" fill="#222" stroke="#222" stroke-width="0.10" font-weight="bold" textLength="9.50" lengthAdjust="spacingAndGlyphs">Day</text>
<text transform="translate(340.60 412.50) rotate(-90) scale(0.6183 1)" x="0" y="3.16" font-size="9.20" text-anchor="middle" fill="#222" stroke="#222" stroke-width="0.10" font-weight="bold">Percent cells</text>
<text transform="translate(351.50 412.70) rotate(-90) scale(0.6575 1)" x="0" y="2.96" font-size="8.60" text-anchor="middle" fill="#222" stroke="#222" stroke-width="0.10" font-weight="bold">in total population</text>
<circle cx="392.10" cy="491.40" r="2.20" fill="#c40f30" stroke="none" stroke-width="0.00"/>
<text x="397.10" y="493.60" font-size="6.30" text-anchor="start" fill="#333" stroke="#333" stroke-width="0.15" font-weight="normal" textLength="19.90" lengthAdjust="spacingAndGlyphs">Vehicle</text>
<circle cx="429.80" cy="491.40" r="2.20" fill="#173f78" stroke="none" stroke-width="0.00"/>
<text x="435.00" y="493.60" font-size="6.30" text-anchor="start" fill="#333" stroke="#333" stroke-width="0.15" font-weight="normal" textLength="18.00" lengthAdjust="spacingAndGlyphs">TCDD</text>
<text x="7.70" y="532.20" font-size="11.30" text-anchor="start" fill="#111" stroke="#111" stroke-width="0.10" font-weight="bold">D</text>
<text x="47.30" y="531.10" font-size="8.60" text-anchor="start" fill="#222" stroke="#222" stroke-width="0.15" font-weight="normal" textLength="33.10" lengthAdjust="spacingAndGlyphs">BCL11A</text>
<text x="82.10" y="527.20" font-size="5.80" text-anchor="middle" fill="#222" stroke="#222" stroke-width="0.15" font-weight="normal">+</text>
<text x="87.10" y="531.10" font-size="8.60" text-anchor="start" fill="#222" stroke="#222" stroke-width="0.15" font-weight="normal" textLength="41.40" lengthAdjust="spacingAndGlyphs">cells within</text>
<text x="38.30" y="542.00" font-size="8.60" text-anchor="start" fill="#222" stroke="#222" stroke-width="0.15" font-weight="normal" textLength="22.90" lengthAdjust="spacingAndGlyphs">CD10</text>
<text x="63.60" y="538.00" font-size="5.80" text-anchor="middle" fill="#222" stroke="#222" stroke-width="0.15" font-weight="normal">+</text>
<text x="68.50" y="542.00" font-size="8.60" text-anchor="start" fill="#222" stroke="#222" stroke-width="0.15" font-weight="normal" textLength="22.30" lengthAdjust="spacingAndGlyphs">CD19</text>
<text x="93.50" y="537.30" font-size="5.80" text-anchor="middle" fill="#222" stroke="#222" stroke-width="0.15" font-weight="normal">&#8722;</text>
<text x="97.70" y="542.00" font-size="8.60" text-anchor="start" fill="#222" stroke="#222" stroke-width="0.15" font-weight="normal" textLength="38.50" lengthAdjust="spacingAndGlyphs">population</text>
<rect x="51.50" y="580.00" width="6.90" height="60.80" fill="#db524a" stroke="none" stroke-width="0.00"/>
<line x1="54.95" y1="576.00" x2="54.95" y2="584.50" stroke="#3c3c3c" stroke-width="0.90"/>
<line x1="53.65" y1="576.00" x2="56.25" y2="576.00" stroke="#3c3c3c" stroke-width="0.90"/>
<line x1="53.65" y1="584.50" x2="56.25" y2="584.50" stroke="#3c3c3c" stroke-width="0.90"/>
<circle cx="53.50" cy="569.60" r="2.10" fill="#c40f30" stroke="#9c0c26" stroke-width="0.30"/>
<circle cx="56.00" cy="573.50" r="2.10" fill="#c40f30" stroke="#9c0c26" stroke-width="0.30"/>
<circle cx="51.20" cy="573.50" r="2.10" fill="#c40f30" stroke="#9c0c26" stroke-width="0.30"/>
<circle cx="55.00" cy="576.70" r="2.10" fill="#c40f30" stroke="#9c0c26" stroke-width="0.30"/>
<circle cx="54.60" cy="601.40" r="2.10" fill="#c40f30" stroke="#9c0c26" stroke-width="0.30"/>
<rect x="61.70" y="606.90" width="6.70" height="33.90" fill="#4b6fa9" stroke="none" stroke-width="0.00"/>
<line x1="65.05" y1="604.00" x2="65.05" y2="610.00" stroke="#3c3c3c" stroke-width="0.90"/>
<line x1="63.75" y1="604.00" x2="66.35" y2="604.00" stroke="#3c3c3c" stroke-width="0.90"/>
<line x1="63.75" y1="610.00" x2="66.35" y2="610.00" stroke="#3c3c3c" stroke-width="0.90"/>
<circle cx="63.70" cy="600.40" r="2.10" fill="#173f78" stroke="#123260" stroke-width="0.30"/>
<circle cx="66.40" cy="602.50" r="2.10" fill="#173f78" stroke="#123260" stroke-width="0.30"/>
<circle cx="64.80" cy="608.50" r="2.10" fill="#173f78" stroke="#123260" stroke-width="0.30"/>
<circle cx="63.40" cy="613.30" r="2.10" fill="#173f78" stroke="#123260" stroke-width="0.30"/>
<circle cx="64.60" cy="618.00" r="2.10" fill="#173f78" stroke="#123260" stroke-width="0.30"/>
<rect x="78.10" y="587.30" width="6.70" height="53.50" fill="#db524a" stroke="none" stroke-width="0.00"/>
<line x1="81.45" y1="583.50" x2="81.45" y2="592.00" stroke="#3c3c3c" stroke-width="0.90"/>
<line x1="80.15" y1="583.50" x2="82.75" y2="583.50" stroke="#3c3c3c" stroke-width="0.90"/>
<line x1="80.15" y1="592.00" x2="82.75" y2="592.00" stroke="#3c3c3c" stroke-width="0.90"/>
<circle cx="81.00" cy="571.90" r="2.10" fill="#c40f30" stroke="#9c0c26" stroke-width="0.30"/>
<circle cx="80.40" cy="582.60" r="2.10" fill="#c40f30" stroke="#9c0c26" stroke-width="0.30"/>
<circle cx="81.80" cy="583.00" r="2.10" fill="#c40f30" stroke="#9c0c26" stroke-width="0.30"/>
<circle cx="80.60" cy="586.60" r="2.10" fill="#c40f30" stroke="#9c0c26" stroke-width="0.30"/>
<circle cx="80.70" cy="593.60" r="2.10" fill="#c40f30" stroke="#9c0c26" stroke-width="0.30"/>
<circle cx="80.90" cy="612.00" r="2.10" fill="#c40f30" stroke="#9c0c26" stroke-width="0.30"/>
<rect x="88.20" y="612.90" width="6.00" height="27.90" fill="#4b6fa9" stroke="none" stroke-width="0.00"/>
<line x1="91.20" y1="606.10" x2="91.20" y2="620.00" stroke="#3c3c3c" stroke-width="0.90"/>
<line x1="89.90" y1="606.10" x2="92.50" y2="606.10" stroke="#3c3c3c" stroke-width="0.90"/>
<line x1="89.90" y1="620.00" x2="92.50" y2="620.00" stroke="#3c3c3c" stroke-width="0.90"/>
<circle cx="89.30" cy="596.00" r="2.10" fill="#173f78" stroke="#123260" stroke-width="0.30"/>
<circle cx="92.40" cy="599.10" r="2.10" fill="#173f78" stroke="#123260" stroke-width="0.30"/>
<circle cx="90.80" cy="619.30" r="2.10" fill="#173f78" stroke="#123260" stroke-width="0.30"/>
<circle cx="90.80" cy="631.30" r="2.10" fill="#173f78" stroke="#123260" stroke-width="0.30"/>
<rect x="104.00" y="594.00" width="6.80" height="46.80" fill="#db524a" stroke="none" stroke-width="0.00"/>
<line x1="107.40" y1="590.00" x2="107.40" y2="598.00" stroke="#3c3c3c" stroke-width="0.90"/>
<line x1="106.10" y1="590.00" x2="108.70" y2="590.00" stroke="#3c3c3c" stroke-width="0.90"/>
<line x1="106.10" y1="598.00" x2="108.70" y2="598.00" stroke="#3c3c3c" stroke-width="0.90"/>
<circle cx="107.30" cy="579.60" r="2.10" fill="#c40f30" stroke="#9c0c26" stroke-width="0.30"/>
<circle cx="107.30" cy="589.20" r="2.10" fill="#c40f30" stroke="#9c0c26" stroke-width="0.30"/>
<circle cx="106.20" cy="598.60" r="2.10" fill="#c40f30" stroke="#9c0c26" stroke-width="0.30"/>
<circle cx="108.80" cy="598.90" r="2.10" fill="#c40f30" stroke="#9c0c26" stroke-width="0.30"/>
<rect x="113.70" y="606.90" width="6.60" height="33.90" fill="#4b6fa9" stroke="none" stroke-width="0.00"/>
<line x1="117.00" y1="597.90" x2="117.00" y2="616.20" stroke="#3c3c3c" stroke-width="0.90"/>
<line x1="115.70" y1="597.90" x2="118.30" y2="597.90" stroke="#3c3c3c" stroke-width="0.90"/>
<line x1="115.70" y1="616.20" x2="118.30" y2="616.20" stroke="#3c3c3c" stroke-width="0.90"/>
<circle cx="116.90" cy="585.00" r="2.10" fill="#173f78" stroke="#123260" stroke-width="0.30"/>
<circle cx="116.90" cy="593.50" r="2.10" fill="#173f78" stroke="#123260" stroke-width="0.30"/>
<circle cx="116.90" cy="604.00" r="2.10" fill="#173f78" stroke="#123260" stroke-width="0.30"/>
<circle cx="116.90" cy="619.00" r="2.10" fill="#173f78" stroke="#123260" stroke-width="0.30"/>
<circle cx="116.90" cy="630.60" r="2.10" fill="#173f78" stroke="#123260" stroke-width="0.30"/>
<line x1="48.50" y1="563.30" x2="48.50" y2="641.35" stroke="#2e2e2e" stroke-width="1.10"/>
<line x1="48.00" y1="640.80" x2="126.20" y2="640.80" stroke="#2e2e2e" stroke-width="1.10"/>
<line x1="45.60" y1="640.90" x2="48.50" y2="640.90" stroke="#2e2e2e" stroke-width="0.90"/>
<text x="42.30" y="643.50" font-size="6.30" text-anchor="end" fill="#3a3a3a" stroke="#3a3a3a" stroke-width="0.15" font-weight="normal">0</text>
<line x1="45.60" y1="625.83" x2="48.50" y2="625.83" stroke="#2e2e2e" stroke-width="0.90"/>
<text x="42.30" y="628.43" font-size="6.30" text-anchor="end" fill="#3a3a3a" stroke="#3a3a3a" stroke-width="0.15" font-weight="normal">20</text>
<line x1="45.60" y1="610.76" x2="48.50" y2="610.76" stroke="#2e2e2e" stroke-width="0.90"/>
<text x="42.30" y="613.36" font-size="6.30" text-anchor="end" fill="#3a3a3a" stroke="#3a3a3a" stroke-width="0.15" font-weight="normal">40</text>
<line x1="45.60" y1="595.69" x2="48.50" y2="595.69" stroke="#2e2e2e" stroke-width="0.90"/>
<text x="42.30" y="598.29" font-size="6.30" text-anchor="end" fill="#3a3a3a" stroke="#3a3a3a" stroke-width="0.15" font-weight="normal">60</text>
<line x1="45.60" y1="580.62" x2="48.50" y2="580.62" stroke="#2e2e2e" stroke-width="0.90"/>
<text x="42.30" y="583.22" font-size="6.30" text-anchor="end" fill="#3a3a3a" stroke="#3a3a3a" stroke-width="0.15" font-weight="normal">80</text>
<line x1="45.60" y1="565.55" x2="48.50" y2="565.55" stroke="#2e2e2e" stroke-width="0.90"/>
<text x="42.30" y="568.15" font-size="6.30" text-anchor="end" fill="#3a3a3a" stroke="#3a3a3a" stroke-width="0.15" font-weight="normal">100</text>
<line x1="59.80" y1="640.80" x2="59.80" y2="643.00" stroke="#2e2e2e" stroke-width="0.90"/>
<line x1="85.80" y1="640.80" x2="85.80" y2="643.00" stroke="#2e2e2e" stroke-width="0.90"/>
<line x1="111.70" y1="640.80" x2="111.70" y2="643.00" stroke="#2e2e2e" stroke-width="0.90"/>
<path d="M55.60,560.90 L55.60,557.30 L65.60,557.30 L65.60,560.90" fill="none" stroke="#3a3a3a" stroke-width="1.15"/>
<circle cx="58.45" cy="551.60" r="1.00" fill="#222" stroke="none" stroke-width="0.00"/>
<circle cx="60.75" cy="551.60" r="1.00" fill="#222" stroke="none" stroke-width="0.00"/>
<path d="M79.60,560.90 L79.60,557.30 L89.80,557.30 L89.80,560.90" fill="none" stroke="#3a3a3a" stroke-width="1.15"/>
<circle cx="84.60" cy="551.60" r="1.00" fill="#222" stroke="none" stroke-width="0.00"/>
<path d="M106.60,560.90 L106.60,557.30 L117.50,557.30 L117.50,560.90" fill="none" stroke="#3a3a3a" stroke-width="1.15"/>
<text x="112.00" y="553.20" font-size="6.00" text-anchor="middle" fill="#333" stroke="#333" stroke-width="0.15" font-weight="normal">0.07</text>
<text x="59.80" y="652.70" font-size="6.40" text-anchor="middle" fill="#333" stroke="#333" stroke-width="0.15" font-weight="normal">14</text>
<text x="85.80" y="652.70" font-size="6.40" text-anchor="middle" fill="#333" stroke="#333" stroke-width="0.15" font-weight="normal">21</text>
<text x="111.70" y="652.70" font-size="6.40" text-anchor="middle" fill="#333" stroke="#333" stroke-width="0.15" font-weight="normal">28</text>
<text x="86.30" y="665.40" font-size="8.80" text-anchor="middle" fill="#222" stroke="#222" stroke-width="0.15" font-weight="normal" textLength="14.50" lengthAdjust="spacingAndGlyphs">Day</text>
<text transform="translate(11.25 601.60) rotate(-90) scale(0.6943 1)" x="0" y="2.79" font-size="8.10" text-anchor="middle" fill="#222" stroke="#222" stroke-width="0.10" font-weight="bold">Percent cells</text>
<text transform="translate(22.15 602.00) rotate(-90)" x="0" y="2.79" font-size="8.10" text-anchor="middle" fill="#222" stroke="#222" stroke-width="0.10" font-weight="bold" textLength="56.50" lengthAdjust="spacingAndGlyphs">in CD10<tspan font-size="4.5" dy="-2">+</tspan><tspan dy="2"> CD19</tspan><tspan font-size="4.5" dy="-2">&#8722;</tspan><tspan dy="2"> cells</tspan></text>
<circle cx="56.90" cy="673.80" r="2.20" fill="#c40f30" stroke="none" stroke-width="0.00"/>
<text x="61.90" y="676.00" font-size="6.30" text-anchor="start" fill="#333" stroke="#333" stroke-width="0.15" font-weight="normal" textLength="20.60" lengthAdjust="spacingAndGlyphs">Vehicle</text>
<circle cx="94.40" cy="673.80" r="2.20" fill="#173f78" stroke="none" stroke-width="0.00"/>
<text x="99.60" y="676.00" font-size="6.30" text-anchor="start" fill="#333" stroke="#333" stroke-width="0.15" font-weight="normal" textLength="18.30" lengthAdjust="spacingAndGlyphs">TCDD</text>
<text x="169.70" y="532.70" font-size="11.30" text-anchor="start" fill="#111" stroke="#111" stroke-width="0.10" font-weight="bold">E</text>
<text x="258.10" y="552.60" font-size="8.60" text-anchor="middle" fill="#222" stroke="#222" stroke-width="0.15" font-weight="normal" textLength="18.20" lengthAdjust="spacingAndGlyphs">IRF8</text>
<path d="M222.75,593.50 C222.63,593.83 222.17,594.67 222.05,595.50 C221.93,596.33 222.03,597.52 222.05,598.50 C222.07,599.48 222.10,600.40 222.15,601.40 C222.20,602.40 222.26,603.62 222.35,604.50 C222.44,605.38 222.51,606.03 222.70,606.70 C222.89,607.37 223.25,607.95 223.50,608.50 C223.75,609.05 223.92,609.32 224.20,610.00 C224.48,610.68 224.98,611.62 225.20,612.60 C225.43,613.58 225.55,614.82 225.55,615.90 C225.55,616.98 225.43,618.02 225.20,619.10 C224.98,620.18 224.48,621.42 224.20,622.40 C223.92,623.38 223.63,624.47 223.50,625.00 C223.37,625.53 223.42,625.50 223.40,625.60 L218.40,625.60 C218.38,625.50 218.43,625.53 218.30,625.00 C218.17,624.47 217.88,623.38 217.60,622.40 C217.32,621.42 216.82,620.18 216.60,619.10 C216.38,618.02 216.25,616.98 216.25,615.90 C216.25,614.82 216.38,613.58 216.60,612.60 C216.82,611.62 217.32,610.68 217.60,610.00 C217.88,609.32 218.05,609.05 218.30,608.50 C218.55,607.95 218.91,607.37 219.10,606.70 C219.29,606.03 219.36,605.38 219.45,604.50 C219.54,603.62 219.60,602.40 219.65,601.40 C219.70,600.40 219.73,599.48 219.75,598.50 C219.77,597.52 219.87,596.33 219.75,595.50 C219.63,594.67 219.17,593.83 219.05,593.50 Z" fill="#c5102e" stroke="#9d0c24" stroke-width="0.6" stroke-linejoin="round"/>
<path d="M234.40,598.10 C234.45,598.75 234.56,600.35 234.70,602.00 C234.84,603.65 235.13,605.92 235.25,608.00 C235.37,610.08 235.46,612.53 235.40,614.50 C235.34,616.47 235.05,618.15 234.90,619.80 C234.75,621.45 234.57,623.63 234.50,624.40 L226.70,624.40 C226.63,623.63 226.45,621.45 226.30,619.80 C226.15,618.15 225.86,616.47 225.80,614.50 C225.74,612.53 225.83,610.08 225.95,608.00 C226.07,605.92 226.36,603.65 226.50,602.00 C226.64,600.35 226.75,598.75 226.80,598.10 Z" fill="#1b4f8f" stroke="#153f72" stroke-width="0.6" stroke-linejoin="round"/>
<path d="M243.20,567.20 C243.28,568.50 243.45,572.03 243.70,575.00 C243.95,577.97 244.27,581.67 244.70,585.00 C245.13,588.33 245.92,591.97 246.30,595.00 C246.68,598.03 246.94,600.37 247.00,603.20 C247.06,606.03 246.87,609.20 246.65,612.00 C246.43,614.80 246.05,617.33 245.70,620.00 C245.35,622.67 244.98,625.17 244.55,628.00 C244.12,630.83 243.34,635.50 243.10,637.00 L241.10,637.00 C240.86,635.50 240.08,630.83 239.65,628.00 C239.22,625.17 238.85,622.67 238.50,620.00 C238.15,617.33 237.77,614.80 237.55,612.00 C237.33,609.20 237.14,606.03 237.20,603.20 C237.26,600.37 237.52,598.03 237.90,595.00 C238.28,591.97 239.07,588.33 239.50,585.00 C239.93,581.67 240.25,577.97 240.50,575.00 C240.75,572.03 240.92,568.50 241.00,567.20 Z" fill="#c5102e" stroke="#9d0c24" stroke-width="0.6" stroke-linejoin="round"/>
<line x1="251.70" y1="585.20" x2="251.70" y2="617.80" stroke="#3e5366" stroke-width="1.00"/>
<line x1="249.80" y1="585.20" x2="253.60" y2="585.20" stroke="#1b3f70" stroke-width="1.20"/>
<path d="M246.6,613.7 Q249,612.0 251.7,611.6 Q254.4,612.0 256.8,613.7 Q254.4,615.2 251.7,615.4 Q249,615.2 246.6,613.7 Z" fill="#1b4f8f" stroke="#153f72" stroke-width="0.5"/>
<path d="M249.6,618.4 L251.7,615.2 L253.8,618.4 Z" fill="#1b4f8f"/>
<path d="M264.70,561.20 C264.78,562.67 264.93,566.87 265.20,570.00 C265.47,573.13 265.88,576.67 266.30,580.00 C266.72,583.33 267.35,587.00 267.70,590.00 C268.05,593.00 268.34,595.17 268.40,598.00 C268.46,600.83 268.32,603.83 268.05,607.00 C267.78,610.17 267.21,613.67 266.80,617.00 C266.39,620.33 265.98,623.78 265.60,627.00 C265.22,630.22 264.68,634.75 264.50,636.30 L262.90,636.30 C262.72,634.75 262.18,630.22 261.80,627.00 C261.42,623.78 261.01,620.33 260.60,617.00 C260.19,613.67 259.62,610.17 259.35,607.00 C259.08,603.83 258.94,600.83 259.00,598.00 C259.06,595.17 259.35,593.00 259.70,590.00 C260.05,587.00 260.68,583.33 261.10,580.00 C261.52,576.67 261.93,573.13 262.20,570.00 C262.47,566.87 262.62,562.67 262.70,561.20 Z" fill="#c5102e" stroke="#9d0c24" stroke-width="0.6" stroke-linejoin="round"/>
<path d="M277.90,595.30 C277.94,596.92 278.11,601.72 278.15,605.00 C278.19,608.28 278.21,611.67 278.15,615.00 C278.09,618.33 277.89,621.87 277.80,625.00 C277.71,628.13 277.63,632.33 277.60,633.80 L269.60,633.80 C269.57,632.33 269.49,628.13 269.40,625.00 C269.31,621.87 269.11,618.33 269.05,615.00 C268.99,611.67 269.01,608.28 269.05,605.00 C269.09,601.72 269.26,596.92 269.30,595.30 Z" fill="#1b4f8f" stroke="#153f72" stroke-width="0.6" stroke-linejoin="round"/>
<path d="M287.50,573.40 C287.62,574.50 287.90,577.23 288.25,580.00 C288.60,582.77 289.24,586.93 289.60,590.00 C289.96,593.07 290.33,595.57 290.40,598.40 C290.47,601.23 290.27,603.90 290.00,607.00 C289.73,610.10 289.17,613.67 288.75,617.00 C288.33,620.33 287.93,623.78 287.50,627.00 C287.07,630.22 286.42,634.75 286.20,636.30 L284.60,636.30 C284.38,634.75 283.72,630.22 283.30,627.00 C282.87,623.78 282.47,620.33 282.05,617.00 C281.63,613.67 281.07,610.10 280.80,607.00 C280.52,603.90 280.33,601.23 280.40,598.40 C280.47,595.57 280.84,593.07 281.20,590.00 C281.56,586.93 282.20,582.77 282.55,580.00 C282.90,577.23 283.17,574.50 283.30,573.40 Z" fill="#c5102e" stroke="#9d0c24" stroke-width="0.6" stroke-linejoin="round"/>
<path d="M299.65,595.90 C299.76,596.33 300.17,597.67 300.30,598.50 C300.43,599.33 300.57,599.98 300.45,600.90 C300.33,601.82 299.93,602.97 299.60,604.00 C299.28,605.03 298.80,606.10 298.50,607.10 C298.20,608.10 297.98,609.13 297.80,610.00 C297.62,610.87 297.47,611.92 297.40,612.30 L293.20,612.30 C293.13,611.92 292.98,610.87 292.80,610.00 C292.62,609.13 292.40,608.10 292.10,607.10 C291.80,606.10 291.32,605.03 291.00,604.00 C290.68,602.97 290.27,601.82 290.15,600.90 C290.03,599.98 290.17,599.33 290.30,598.50 C290.43,597.67 290.84,596.33 290.95,595.90 Z" fill="#1b4f8f" stroke="#153f72" stroke-width="0.6" stroke-linejoin="round"/>
<text x="230.50" y="595.60" font-size="6.50" text-anchor="middle" fill="#333" stroke="#333" stroke-width="0.15" font-weight="normal">*</text>
<text x="251.70" y="582.30" font-size="6.50" text-anchor="middle" fill="#333" stroke="#333" stroke-width="0.15" font-weight="normal">*</text>
<text x="273.60" y="593.10" font-size="6.50" text-anchor="middle" fill="#333" stroke="#333" stroke-width="0.15" font-weight="normal">*</text>
<text x="295.10" y="593.60" font-size="6.50" text-anchor="middle" fill="#333" stroke="#333" stroke-width="0.15" font-weight="normal">*</text>
<line x1="213.00" y1="558.20" x2="213.00" y2="640.90" stroke="#2e2e2e" stroke-width="1.10"/>
<line x1="212.50" y1="640.40" x2="303.40" y2="640.40" stroke="#2e2e2e" stroke-width="1.10"/>
<line x1="210.10" y1="580.80" x2="213.00" y2="580.80" stroke="#2e2e2e" stroke-width="0.90"/>
<text x="206.30" y="583.00" font-size="6.30" text-anchor="end" fill="#333" stroke="#333" stroke-width="0.15" font-weight="normal">0.15</text>
<line x1="210.10" y1="606.40" x2="213.00" y2="606.40" stroke="#2e2e2e" stroke-width="0.90"/>
<text x="206.30" y="608.60" font-size="6.30" text-anchor="end" fill="#333" stroke="#333" stroke-width="0.15" font-weight="normal">0.10</text>
<line x1="210.10" y1="632.10" x2="213.00" y2="632.10" stroke="#2e2e2e" stroke-width="0.90"/>
<text x="206.30" y="634.30" font-size="6.30" text-anchor="end" fill="#333" stroke="#333" stroke-width="0.15" font-weight="normal">0.05</text>
<line x1="225.80" y1="640.40" x2="225.80" y2="642.70" stroke="#2e2e2e" stroke-width="0.90"/>
<text x="225.80" y="653.40" font-size="6.40" text-anchor="middle" fill="#333" stroke="#333" stroke-width="0.15" font-weight="normal">7</text>
<line x1="247.60" y1="640.40" x2="247.60" y2="642.70" stroke="#2e2e2e" stroke-width="0.90"/>
<text x="247.60" y="653.40" font-size="6.40" text-anchor="middle" fill="#333" stroke="#333" stroke-width="0.15" font-weight="normal">14</text>
<line x1="268.30" y1="640.40" x2="268.30" y2="642.70" stroke="#2e2e2e" stroke-width="0.90"/>
<text x="268.30" y="653.40" font-size="6.40" text-anchor="middle" fill="#333" stroke="#333" stroke-width="0.15" font-weight="normal">21</text>
<line x1="290.20" y1="640.40" x2="290.20" y2="642.70" stroke="#2e2e2e" stroke-width="0.90"/>
<text x="290.20" y="653.40" font-size="6.40" text-anchor="middle" fill="#333" stroke="#333" stroke-width="0.15" font-weight="normal">28</text>
<text x="258.00" y="665.00" font-size="8.60" text-anchor="middle" fill="#222" stroke="#222" stroke-width="0.10" font-weight="bold" textLength="9.80" lengthAdjust="spacingAndGlyphs">Day</text>
<text transform="translate(173.70 599.40) rotate(-90) scale(0.6802 1)" x="0" y="2.75" font-size="8.00" text-anchor="middle" fill="#222" stroke="#222" stroke-width="0.10" font-weight="bold">Transcription factor</text>
<text transform="translate(185.30 600.20) rotate(-90) scale(0.7331 1)" x="0" y="2.61" font-size="7.60" text-anchor="middle" fill="#222" stroke="#222" stroke-width="0.10" font-weight="bold">activity</text>
<rect x="226.90" y="671.80" width="4.00" height="4.90" fill="#c5102e" stroke="none" stroke-width="0.00"/>
<text x="233.80" y="676.40" font-size="6.30" text-anchor="start" fill="#333" stroke="#333" stroke-width="0.15" font-weight="normal" textLength="20.10" lengthAdjust="spacingAndGlyphs">Vehicle</text>
<rect x="264.50" y="671.80" width="4.20" height="4.90" fill="#1b4f8f" stroke="none" stroke-width="0.00"/>
<text x="271.50" y="676.40" font-size="6.30" text-anchor="start" fill="#333" stroke="#333" stroke-width="0.15" font-weight="normal" textLength="18.40" lengthAdjust="spacingAndGlyphs">TCDD</text>
<text x="343.60" y="531.90" font-size="11.30" text-anchor="start" fill="#111" stroke="#111" stroke-width="0.10" font-weight="bold">F</text>
<text x="408.50" y="552.50" font-size="8.60" text-anchor="start" fill="#222" stroke="#222" stroke-width="0.15" font-weight="normal" textLength="18.80" lengthAdjust="spacingAndGlyphs">IRF8</text>
<text x="428.80" y="549.00" font-size="6.00" text-anchor="middle" fill="#222" stroke="#222" stroke-width="0.15" font-weight="normal">+</text>
<rect x="384.50" y="605.00" width="6.40" height="35.40" fill="#db524a" stroke="none" stroke-width="0.00"/>
<line x1="387.70" y1="600.20" x2="387.70" y2="608.80" stroke="#3c3c3c" stroke-width="0.90"/>
<line x1="386.40" y1="600.20" x2="389.00" y2="600.20" stroke="#3c3c3c" stroke-width="0.90"/>
<line x1="386.40" y1="608.80" x2="389.00" y2="608.80" stroke="#3c3c3c" stroke-width="0.90"/>
<circle cx="387.50" cy="576.80" r="2.10" fill="#c40f30" stroke="#9c0c26" stroke-width="0.30"/>
<circle cx="387.50" cy="598.40" r="2.10" fill="#c40f30" stroke="#9c0c26" stroke-width="0.30"/>
<circle cx="387.50" cy="608.50" r="2.10" fill="#c40f30" stroke="#9c0c26" stroke-width="0.30"/>
<circle cx="388.00" cy="615.70" r="2.10" fill="#c40f30" stroke="#9c0c26" stroke-width="0.30"/>
<circle cx="386.30" cy="618.30" r="2.10" fill="#c40f30" stroke="#9c0c26" stroke-width="0.30"/>
<rect x="394.40" y="630.00" width="6.60" height="10.40" fill="#4b6fa9" stroke="none" stroke-width="0.00"/>
<line x1="397.70" y1="627.50" x2="397.70" y2="632.50" stroke="#3c3c3c" stroke-width="0.90"/>
<line x1="396.40" y1="627.50" x2="399.00" y2="627.50" stroke="#3c3c3c" stroke-width="0.90"/>
<line x1="396.40" y1="632.50" x2="399.00" y2="632.50" stroke="#3c3c3c" stroke-width="0.90"/>
<circle cx="397.50" cy="624.70" r="2.10" fill="#173f78" stroke="#123260" stroke-width="0.30"/>
<circle cx="399.20" cy="630.00" r="2.10" fill="#173f78" stroke="#123260" stroke-width="0.30"/>
<circle cx="396.60" cy="631.30" r="2.10" fill="#173f78" stroke="#123260" stroke-width="0.30"/>
<circle cx="397.50" cy="635.60" r="2.10" fill="#173f78" stroke="#123260" stroke-width="0.30"/>
<circle cx="399.20" cy="636.50" r="2.10" fill="#173f78" stroke="#123260" stroke-width="0.30"/>
<rect x="411.30" y="598.40" width="6.60" height="42.00" fill="#db524a" stroke="none" stroke-width="0.00"/>
<line x1="414.60" y1="596.00" x2="414.60" y2="601.00" stroke="#3c3c3c" stroke-width="0.90"/>
<line x1="413.30" y1="596.00" x2="415.90" y2="596.00" stroke="#3c3c3c" stroke-width="0.90"/>
<line x1="413.30" y1="601.00" x2="415.90" y2="601.00" stroke="#3c3c3c" stroke-width="0.90"/>
<circle cx="413.10" cy="593.30" r="2.10" fill="#c40f30" stroke="#9c0c26" stroke-width="0.30"/>
<circle cx="416.20" cy="597.10" r="2.10" fill="#c40f30" stroke="#9c0c26" stroke-width="0.30"/>
<circle cx="414.40" cy="599.30" r="2.10" fill="#c40f30" stroke="#9c0c26" stroke-width="0.30"/>
<circle cx="415.70" cy="601.90" r="2.10" fill="#c40f30" stroke="#9c0c26" stroke-width="0.30"/>
<circle cx="414.40" cy="607.10" r="2.10" fill="#c40f30" stroke="#9c0c26" stroke-width="0.30"/>
<rect x="421.40" y="627.50" width="6.40" height="12.90" fill="#4b6fa9" stroke="none" stroke-width="0.00"/>
<line x1="424.60" y1="623.50" x2="424.60" y2="631.50" stroke="#3c3c3c" stroke-width="0.90"/>
<line x1="423.30" y1="623.50" x2="425.90" y2="623.50" stroke="#3c3c3c" stroke-width="0.90"/>
<line x1="423.30" y1="631.50" x2="425.90" y2="631.50" stroke="#3c3c3c" stroke-width="0.90"/>
<circle cx="424.30" cy="617.80" r="2.10" fill="#173f78" stroke="#123260" stroke-width="0.30"/>
<circle cx="424.30" cy="622.70" r="2.10" fill="#173f78" stroke="#123260" stroke-width="0.30"/>
<circle cx="423.40" cy="629.60" r="2.10" fill="#173f78" stroke="#123260" stroke-width="0.30"/>
<circle cx="425.50" cy="631.30" r="2.10" fill="#173f78" stroke="#123260" stroke-width="0.30"/>
<circle cx="423.40" cy="635.60" r="2.10" fill="#173f78" stroke="#123260" stroke-width="0.30"/>
<rect x="438.20" y="617.10" width="6.50" height="23.30" fill="#db524a" stroke="none" stroke-width="0.00"/>
<line x1="441.45" y1="613.10" x2="441.45" y2="620.90" stroke="#3c3c3c" stroke-width="0.90"/>
<line x1="440.15" y1="613.10" x2="442.75" y2="613.10" stroke="#3c3c3c" stroke-width="0.90"/>
<line x1="440.15" y1="620.90" x2="442.75" y2="620.90" stroke="#3c3c3c" stroke-width="0.90"/>
<circle cx="441.10" cy="604.00" r="2.10" fill="#c40f30" stroke="#9c0c26" stroke-width="0.30"/>
<circle cx="441.10" cy="610.60" r="2.10" fill="#c40f30" stroke="#9c0c26" stroke-width="0.30"/>
<circle cx="442.10" cy="619.20" r="2.10" fill="#c40f30" stroke="#9c0c26" stroke-width="0.30"/>
<circle cx="439.90" cy="627.50" r="2.10" fill="#c40f30" stroke="#9c0c26" stroke-width="0.30"/>
<circle cx="442.50" cy="624.00" r="2.10" fill="#c40f30" stroke="#9c0c26" stroke-width="0.30"/>
<rect x="448.20" y="629.60" width="6.40" height="10.80" fill="#4b6fa9" stroke="none" stroke-width="0.00"/>
<line x1="451.40" y1="626.50" x2="451.40" y2="632.50" stroke="#3c3c3c" stroke-width="0.90"/>
<line x1="450.10" y1="626.50" x2="452.70" y2="626.50" stroke="#3c3c3c" stroke-width="0.90"/>
<line x1="450.10" y1="632.50" x2="452.70" y2="632.50" stroke="#3c3c3c" stroke-width="0.90"/>
<circle cx="449.70" cy="625.30" r="2.10" fill="#173f78" stroke="#123260" stroke-width="0.30"/>
<circle cx="452.50" cy="626.10" r="2.10" fill="#173f78" stroke="#123260" stroke-width="0.30"/>
<circle cx="451.50" cy="629.20" r="2.10" fill="#173f78" stroke="#123260" stroke-width="0.30"/>
<circle cx="451.10" cy="635.10" r="2.10" fill="#173f78" stroke="#123260" stroke-width="0.30"/>
<line x1="380.80" y1="554.00" x2="380.80" y2="640.95" stroke="#2e2e2e" stroke-width="1.10"/>
<line x1="380.30" y1="640.40" x2="457.80" y2="640.40" stroke="#2e2e2e" stroke-width="1.10"/>
<line x1="377.90" y1="640.40" x2="380.80" y2="640.40" stroke="#2e2e2e" stroke-width="0.90"/>
<text x="374.60" y="643.00" font-size="6.30" text-anchor="end" fill="#3a3a3a" stroke="#3a3a3a" stroke-width="0.15" font-weight="normal">0</text>
<line x1="377.90" y1="612.30" x2="380.80" y2="612.30" stroke="#2e2e2e" stroke-width="0.90"/>
<text x="374.60" y="614.90" font-size="6.30" text-anchor="end" fill="#3a3a3a" stroke="#3a3a3a" stroke-width="0.15" font-weight="normal">5</text>
<line x1="377.90" y1="584.20" x2="380.80" y2="584.20" stroke="#2e2e2e" stroke-width="0.90"/>
<text x="374.60" y="586.80" font-size="6.30" text-anchor="end" fill="#3a3a3a" stroke="#3a3a3a" stroke-width="0.15" font-weight="normal">10</text>
<line x1="377.90" y1="556.10" x2="380.80" y2="556.10" stroke="#2e2e2e" stroke-width="0.90"/>
<text x="374.60" y="558.70" font-size="6.30" text-anchor="end" fill="#3a3a3a" stroke="#3a3a3a" stroke-width="0.15" font-weight="normal">15</text>
<line x1="392.50" y1="640.40" x2="392.50" y2="642.60" stroke="#2e2e2e" stroke-width="0.90"/>
<line x1="419.50" y1="640.40" x2="419.50" y2="642.60" stroke="#2e2e2e" stroke-width="0.90"/>
<line x1="446.30" y1="640.40" x2="446.30" y2="642.60" stroke="#2e2e2e" stroke-width="0.90"/>
<path d="M387.20,571.80 L387.20,567.70 L397.70,567.70 L397.70,571.80" fill="none" stroke="#3a3a3a" stroke-width="1.15"/>
<circle cx="392.50" cy="560.50" r="1.00" fill="#222" stroke="none" stroke-width="0.00"/>
<path d="M414.60,571.80 L414.60,567.70 L425.70,567.70 L425.70,571.80" fill="none" stroke="#3a3a3a" stroke-width="1.15"/>
<circle cx="417.60" cy="560.50" r="1.00" fill="#222" stroke="none" stroke-width="0.00"/>
<circle cx="419.90" cy="560.50" r="1.00" fill="#222" stroke="none" stroke-width="0.00"/>
<circle cx="422.20" cy="560.50" r="1.00" fill="#222" stroke="none" stroke-width="0.00"/>
<path d="M441.30,571.80 L441.30,567.70 L452.80,567.70 L452.80,571.80" fill="none" stroke="#3a3a3a" stroke-width="1.15"/>
<text x="446.70" y="563.80" font-size="6.00" text-anchor="middle" fill="#333" stroke="#333" stroke-width="0.15" font-weight="normal">0.06</text>
<text x="392.50" y="653.70" font-size="6.40" text-anchor="middle" fill="#333" stroke="#333" stroke-width="0.15" font-weight="normal">14</text>
<text x="419.50" y="653.70" font-size="6.40" text-anchor="middle" fill="#333" stroke="#333" stroke-width="0.15" font-weight="normal">21</text>
<text x="446.30" y="653.70" font-size="6.40" text-anchor="middle" fill="#333" stroke="#333" stroke-width="0.15" font-weight="normal">28</text>
<text x="421.70" y="664.60" font-size="8.40" text-anchor="middle" fill="#222" stroke="#222" stroke-width="0.10" font-weight="bold" textLength="9.40" lengthAdjust="spacingAndGlyphs">Day</text>
<text transform="translate(347.80 597.50) rotate(-90) scale(0.6463 1)" x="0" y="2.92" font-size="8.50" text-anchor="middle" fill="#222" stroke="#222" stroke-width="0.10" font-weight="bold">Percent cells</text>
<text transform="translate(358.90 597.70) rotate(-90) scale(0.6585 1)" x="0" y="2.92" font-size="8.50" text-anchor="middle" fill="#222" stroke="#222" stroke-width="0.10" font-weight="bold">in total population</text>
<circle cx="390.50" cy="674.30" r="2.20" fill="#c40f30" stroke="none" stroke-width="0.00"/>
<text x="395.50" y="676.50" font-size="6.30" text-anchor="start" fill="#333" stroke="#333" stroke-width="0.15" font-weight="normal" textLength="20.00" lengthAdjust="spacingAndGlyphs">Vehicle</text>
<circle cx="427.50" cy="674.30" r="2.20" fill="#173f78" stroke="none" stroke-width="0.00"/>
<text x="432.70" y="676.50" font-size="6.30" text-anchor="start" fill="#333" stroke="#333" stroke-width="0.15" font-weight="normal" textLength="18.30" lengthAdjust="spacingAndGlyphs">TCDD</text>
<line x1="0" y1="0.5" x2="520" y2="0.5" stroke="#555" stroke-width="1"/>
<line x1="0.5" y1="0" x2="0.5" y2="685" stroke="#585858" stroke-width="1"/>
<line x1="519.5" y1="0" x2="519.5" y2="685" stroke="#444" stroke-width="1"/>
<line x1="0" y1="684.5" x2="520" y2="684.5" stroke="#333" stroke-width="1"/>
<line x1="0" y1="683.6" x2="520" y2="683.6" stroke="#888" stroke-width="0.3"/>
</svg>
</body></html>
